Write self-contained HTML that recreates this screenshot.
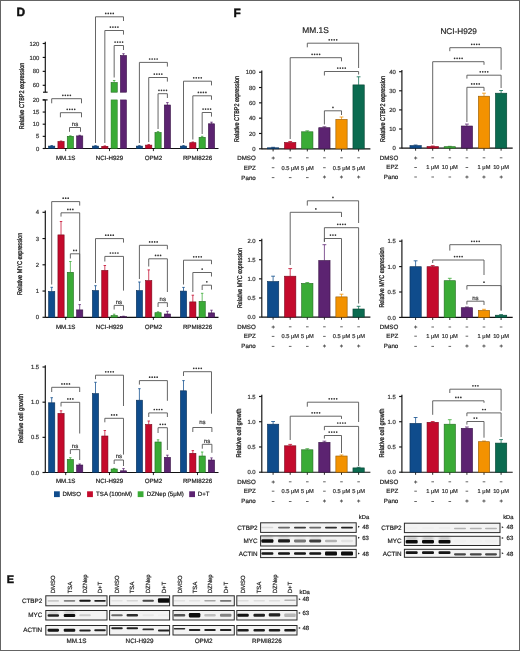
<!DOCTYPE html>
<html><head><meta charset="utf-8"><title>Figure</title>
<style>
html,body{margin:0;padding:0;background:#fff;}
body{width:520px;height:651px;overflow:hidden;font-family:"Liberation Sans", sans-serif;}
#fig{position:relative;width:520px;height:651px;}
#fig svg{position:absolute;left:0;top:0;display:block;will-change:transform;}
#frame{position:absolute;left:0;top:0;width:518px;height:649px;border:1px solid #646464;pointer-events:none;}
</style></head><body><div id="fig">
<svg width="520" height="651" viewBox="0 0 520 651" font-family='"Liberation Sans", sans-serif' text-rendering="geometricPrecision">
<defs><filter id="bl" x="-30%" y="-80%" width="160%" height="260%"><feGaussianBlur stdDeviation="0.7"/></filter><filter id="bl2" x="-30%" y="-80%" width="160%" height="260%"><feGaussianBlur stdDeviation="0.45"/></filter><filter id="bl3" x="-30%" y="-80%" width="160%" height="260%"><feGaussianBlur stdDeviation="1.1"/></filter></defs>
<rect x="0" y="0" width="520" height="651" fill="#fff"/>
<text x="16.5" y="16.3" font-size="11.9" text-anchor="start" fill="#111" font-weight="bold" stroke="#111" stroke-width="0.45" >D</text>
<text x="233.5" y="16.6" font-size="11.9" text-anchor="start" fill="#111" font-weight="bold" stroke="#111" stroke-width="0.45" >F</text>
<text x="6.7" y="583.2" font-size="10.9" text-anchor="start" fill="#111" font-weight="bold" stroke="#111" stroke-width="0.45" >E</text>
<line x1="45.3" y1="41.7" x2="45.3" y2="92.2" stroke="#111" stroke-width="1.15"/>
<line x1="43" y1="92.2" x2="47.6" y2="92.2" stroke="#111" stroke-width="1.15"/>
<line x1="42.7" y1="43.5" x2="45.3" y2="43.5" stroke="#111" stroke-width="1.15"/>
<text x="39.3" y="45.6" font-size="5.9" text-anchor="end" fill="#333" font-weight="normal" stroke="#333" stroke-width="0.2" >120</text>
<line x1="42.7" y1="57.43" x2="45.3" y2="57.43" stroke="#111" stroke-width="1.15"/>
<text x="39.3" y="59.53" font-size="5.9" text-anchor="end" fill="#333" font-weight="normal" stroke="#333" stroke-width="0.2" >100</text>
<line x1="42.7" y1="71.37" x2="45.3" y2="71.37" stroke="#111" stroke-width="1.15"/>
<text x="39.3" y="73.47" font-size="5.9" text-anchor="end" fill="#333" font-weight="normal" stroke="#333" stroke-width="0.2" >80</text>
<line x1="42.7" y1="85.3" x2="45.3" y2="85.3" stroke="#111" stroke-width="1.15"/>
<text x="39.3" y="87.4" font-size="5.9" text-anchor="end" fill="#333" font-weight="normal" stroke="#333" stroke-width="0.2" >60</text>
<line x1="45.3" y1="99.9" x2="45.3" y2="149" stroke="#111" stroke-width="1.15"/>
<line x1="42.7" y1="99.9" x2="47.6" y2="99.9" stroke="#111" stroke-width="1.15"/>
<line x1="42.7" y1="99.9" x2="45.3" y2="99.9" stroke="#111" stroke-width="1.15"/>
<text x="39.3" y="102" font-size="5.9" text-anchor="end" fill="#333" font-weight="normal" stroke="#333" stroke-width="0.2" >20</text>
<line x1="42.7" y1="112.05" x2="45.3" y2="112.05" stroke="#111" stroke-width="1.15"/>
<text x="39.3" y="114.15" font-size="5.9" text-anchor="end" fill="#333" font-weight="normal" stroke="#333" stroke-width="0.2" >15</text>
<line x1="42.7" y1="124.2" x2="45.3" y2="124.2" stroke="#111" stroke-width="1.15"/>
<text x="39.3" y="126.3" font-size="5.9" text-anchor="end" fill="#333" font-weight="normal" stroke="#333" stroke-width="0.2" >10</text>
<line x1="42.7" y1="136.35" x2="45.3" y2="136.35" stroke="#111" stroke-width="1.15"/>
<text x="39.3" y="138.45" font-size="5.9" text-anchor="end" fill="#333" font-weight="normal" stroke="#333" stroke-width="0.2" >5</text>
<line x1="42.7" y1="148.5" x2="45.3" y2="148.5" stroke="#111" stroke-width="1.15"/>
<text x="39.3" y="150.6" font-size="5.9" text-anchor="end" fill="#333" font-weight="normal" stroke="#333" stroke-width="0.2" >0</text>
<line x1="45.3" y1="148.5" x2="218.5" y2="148.5" stroke="#111" stroke-width="1.15"/>
<line x1="65.69" y1="148.5" x2="65.69" y2="151.1" stroke="#111" stroke-width="0.9"/>
<text x="65.69" y="159.6" font-size="6.2" text-anchor="middle" fill="#222" font-weight="normal" stroke="#222" stroke-width="0.2" >MM.1S</text>
<line x1="109.5" y1="148.5" x2="109.5" y2="151.1" stroke="#111" stroke-width="0.9"/>
<text x="109.5" y="159.6" font-size="6.2" text-anchor="middle" fill="#222" font-weight="normal" stroke="#222" stroke-width="0.2" >NCI-H929</text>
<line x1="153.4" y1="148.5" x2="153.4" y2="151.1" stroke="#111" stroke-width="0.9"/>
<text x="153.4" y="159.6" font-size="6.2" text-anchor="middle" fill="#222" font-weight="normal" stroke="#222" stroke-width="0.2" >OPM2</text>
<line x1="197.5" y1="148.5" x2="197.5" y2="151.1" stroke="#111" stroke-width="0.9"/>
<text x="197.5" y="159.6" font-size="6.2" text-anchor="middle" fill="#222" font-weight="normal" stroke="#222" stroke-width="0.2" >RPMI8226</text>
<text transform="translate(24 96) rotate(-90)" x="0" y="0" font-size="6.8" text-anchor="middle" fill="#222" stroke="#222" stroke-width="0.32" textLength="66.5" lengthAdjust="spacingAndGlyphs">Relative CTBP2 expression</text>
<line x1="51.7" y1="146.1" x2="51.7" y2="145.6" stroke="#0f4c8c" stroke-width="0.75"/>
<line x1="50.46" y1="145.6" x2="52.94" y2="145.6" stroke="#0f4c8c" stroke-width="0.8"/>
<rect x="48.6" y="146.1" width="6.2" height="2.4" fill="#0f4c8c" stroke="#092f56" stroke-width="0.6"/>
<line x1="61.03" y1="141.5" x2="61.03" y2="141" stroke="#c40a2c" stroke-width="0.75"/>
<line x1="59.79" y1="141" x2="62.27" y2="141" stroke="#c40a2c" stroke-width="0.8"/>
<rect x="57.93" y="141.5" width="6.2" height="7" fill="#c40a2c" stroke="#79061b" stroke-width="0.6"/>
<line x1="70.36" y1="136.3" x2="70.36" y2="135.8" stroke="#3aab36" stroke-width="0.75"/>
<line x1="69.12" y1="135.8" x2="71.6" y2="135.8" stroke="#3aab36" stroke-width="0.8"/>
<rect x="67.26" y="136.3" width="6.2" height="12.2" fill="#3aab36" stroke="#236a21" stroke-width="0.6"/>
<line x1="79.69" y1="135.9" x2="79.69" y2="135.3" stroke="#5c2371" stroke-width="0.75"/>
<line x1="78.45" y1="135.3" x2="80.93" y2="135.3" stroke="#5c2371" stroke-width="0.8"/>
<rect x="76.59" y="135.9" width="6.2" height="12.6" fill="#5c2371" stroke="#391546" stroke-width="0.6"/>
<line x1="95.5" y1="146.1" x2="95.5" y2="145.7" stroke="#0f4c8c" stroke-width="0.75"/>
<line x1="94.26" y1="145.7" x2="96.74" y2="145.7" stroke="#0f4c8c" stroke-width="0.8"/>
<rect x="92.4" y="146.1" width="6.2" height="2.4" fill="#0f4c8c" stroke="#092f56" stroke-width="0.6"/>
<line x1="104.83" y1="146.3" x2="104.83" y2="145.9" stroke="#c40a2c" stroke-width="0.75"/>
<line x1="103.59" y1="145.9" x2="106.07" y2="145.9" stroke="#c40a2c" stroke-width="0.8"/>
<rect x="101.73" y="146.3" width="6.2" height="2.2" fill="#c40a2c" stroke="#79061b" stroke-width="0.6"/>
<line x1="114.16" y1="82.51" x2="114.16" y2="80.49" stroke="#3aab36" stroke-width="0.75"/>
<line x1="112.92" y1="80.49" x2="115.4" y2="80.49" stroke="#3aab36" stroke-width="0.8"/>
<rect x="111.06" y="82.51" width="6.2" height="9.69" fill="#3aab36" stroke="#236a21" stroke-width="0.6"/>
<rect x="111.06" y="99.9" width="6.2" height="48.6" fill="#3aab36" stroke="#287725" stroke-width="0.5"/>
<line x1="123.49" y1="55.48" x2="123.49" y2="53.74" stroke="#5c2371" stroke-width="0.75"/>
<line x1="122.25" y1="53.74" x2="124.73" y2="53.74" stroke="#5c2371" stroke-width="0.8"/>
<rect x="120.39" y="55.48" width="6.2" height="36.72" fill="#5c2371" stroke="#391546" stroke-width="0.6"/>
<rect x="120.39" y="99.9" width="6.2" height="48.6" fill="#5c2371" stroke="#40184f" stroke-width="0.5"/>
<line x1="139.4" y1="146.1" x2="139.4" y2="145.7" stroke="#0f4c8c" stroke-width="0.75"/>
<line x1="138.16" y1="145.7" x2="140.64" y2="145.7" stroke="#0f4c8c" stroke-width="0.8"/>
<rect x="136.3" y="146.1" width="6.2" height="2.4" fill="#0f4c8c" stroke="#092f56" stroke-width="0.6"/>
<line x1="148.73" y1="145.1" x2="148.73" y2="144.6" stroke="#c40a2c" stroke-width="0.75"/>
<line x1="147.49" y1="144.6" x2="149.97" y2="144.6" stroke="#c40a2c" stroke-width="0.8"/>
<rect x="145.63" y="145.1" width="6.2" height="3.4" fill="#c40a2c" stroke="#79061b" stroke-width="0.6"/>
<line x1="158.06" y1="132.5" x2="158.06" y2="131.6" stroke="#3aab36" stroke-width="0.75"/>
<line x1="156.82" y1="131.6" x2="159.3" y2="131.6" stroke="#3aab36" stroke-width="0.8"/>
<rect x="154.96" y="132.5" width="6.2" height="16" fill="#3aab36" stroke="#236a21" stroke-width="0.6"/>
<line x1="167.39" y1="105" x2="167.39" y2="102.6" stroke="#5c2371" stroke-width="0.75"/>
<line x1="166.15" y1="102.6" x2="168.63" y2="102.6" stroke="#5c2371" stroke-width="0.8"/>
<rect x="164.29" y="105" width="6.2" height="43.5" fill="#5c2371" stroke="#391546" stroke-width="0.6"/>
<line x1="183.5" y1="146.1" x2="183.5" y2="145.6" stroke="#0f4c8c" stroke-width="0.75"/>
<line x1="182.26" y1="145.6" x2="184.74" y2="145.6" stroke="#0f4c8c" stroke-width="0.8"/>
<rect x="180.4" y="146.1" width="6.2" height="2.4" fill="#0f4c8c" stroke="#092f56" stroke-width="0.6"/>
<line x1="192.83" y1="142.7" x2="192.83" y2="142" stroke="#c40a2c" stroke-width="0.75"/>
<line x1="191.59" y1="142" x2="194.07" y2="142" stroke="#c40a2c" stroke-width="0.8"/>
<rect x="189.73" y="142.7" width="6.2" height="5.8" fill="#c40a2c" stroke="#79061b" stroke-width="0.6"/>
<line x1="202.16" y1="137.3" x2="202.16" y2="136.3" stroke="#3aab36" stroke-width="0.75"/>
<line x1="200.92" y1="136.3" x2="203.4" y2="136.3" stroke="#3aab36" stroke-width="0.8"/>
<rect x="199.06" y="137.3" width="6.2" height="11.2" fill="#3aab36" stroke="#236a21" stroke-width="0.6"/>
<line x1="211.49" y1="123.8" x2="211.49" y2="122.2" stroke="#5c2371" stroke-width="0.75"/>
<line x1="210.25" y1="122.2" x2="212.73" y2="122.2" stroke="#5c2371" stroke-width="0.8"/>
<rect x="208.39" y="123.8" width="6.2" height="24.7" fill="#5c2371" stroke="#391546" stroke-width="0.6"/>
<path d="M51.7 103.3 V98.7 H81.5 V103.3" fill="none" stroke="#555555" stroke-width="0.9"/>
<circle cx="62.85" cy="95.3" r="0.85" fill="#333"/>
<circle cx="65.35" cy="95.3" r="0.85" fill="#333"/>
<circle cx="67.85" cy="95.3" r="0.85" fill="#333"/>
<circle cx="70.35" cy="95.3" r="0.85" fill="#333"/>
<path d="M60.4 117.3 V112.7 H81.5 V117.3" fill="none" stroke="#555555" stroke-width="0.9"/>
<circle cx="67.2" cy="109.3" r="0.85" fill="#333"/>
<circle cx="69.7" cy="109.3" r="0.85" fill="#333"/>
<circle cx="72.2" cy="109.3" r="0.85" fill="#333"/>
<circle cx="74.7" cy="109.3" r="0.85" fill="#333"/>
<path d="M69.5 131.8 V127.5 H80.5 V131.8" fill="none" stroke="#555555" stroke-width="0.9"/>
<text x="75" y="126.1" font-size="6" text-anchor="middle" fill="#333" font-weight="normal" stroke="#333" stroke-width="0.2" >ns</text>
<path d="M95.5 143 V16.8 H123.49 V21" fill="none" stroke="#555555" stroke-width="0.9"/>
<circle cx="105.75" cy="13.4" r="0.85" fill="#333"/>
<circle cx="108.25" cy="13.4" r="0.85" fill="#333"/>
<circle cx="110.75" cy="13.4" r="0.85" fill="#333"/>
<circle cx="113.25" cy="13.4" r="0.85" fill="#333"/>
<path d="M104.83 143 V30.5 H123.49 V34.6" fill="none" stroke="#555555" stroke-width="0.9"/>
<circle cx="110.41" cy="27.1" r="0.85" fill="#333"/>
<circle cx="112.91" cy="27.1" r="0.85" fill="#333"/>
<circle cx="115.41" cy="27.1" r="0.85" fill="#333"/>
<circle cx="117.91" cy="27.1" r="0.85" fill="#333"/>
<path d="M114.16 77.5 V45.5 H123.49 V50" fill="none" stroke="#555555" stroke-width="0.9"/>
<circle cx="115.08" cy="42.1" r="0.85" fill="#333"/>
<circle cx="117.58" cy="42.1" r="0.85" fill="#333"/>
<circle cx="120.08" cy="42.1" r="0.85" fill="#333"/>
<circle cx="122.58" cy="42.1" r="0.85" fill="#333"/>
<path d="M139.4 143 V62.4 H167.39 V66.6" fill="none" stroke="#555555" stroke-width="0.9"/>
<circle cx="149.65" cy="59" r="0.85" fill="#333"/>
<circle cx="152.15" cy="59" r="0.85" fill="#333"/>
<circle cx="154.65" cy="59" r="0.85" fill="#333"/>
<circle cx="157.15" cy="59" r="0.85" fill="#333"/>
<path d="M148.73 142 V77.5 H167.39 V81.6" fill="none" stroke="#555555" stroke-width="0.9"/>
<circle cx="154.31" cy="74.1" r="0.85" fill="#333"/>
<circle cx="156.81" cy="74.1" r="0.85" fill="#333"/>
<circle cx="159.31" cy="74.1" r="0.85" fill="#333"/>
<circle cx="161.81" cy="74.1" r="0.85" fill="#333"/>
<path d="M158.06 129 V93.7 H167.39 V98" fill="none" stroke="#555555" stroke-width="0.9"/>
<circle cx="158.98" cy="90.3" r="0.85" fill="#333"/>
<circle cx="161.48" cy="90.3" r="0.85" fill="#333"/>
<circle cx="163.98" cy="90.3" r="0.85" fill="#333"/>
<circle cx="166.48" cy="90.3" r="0.85" fill="#333"/>
<path d="M183.5 143 V81.2 H211.49 V85.4" fill="none" stroke="#555555" stroke-width="0.9"/>
<circle cx="193.75" cy="77.8" r="0.85" fill="#333"/>
<circle cx="196.25" cy="77.8" r="0.85" fill="#333"/>
<circle cx="198.75" cy="77.8" r="0.85" fill="#333"/>
<circle cx="201.25" cy="77.8" r="0.85" fill="#333"/>
<path d="M192.83 139.5 V95.8 H211.49 V99.8" fill="none" stroke="#555555" stroke-width="0.9"/>
<circle cx="198.41" cy="92.4" r="0.85" fill="#333"/>
<circle cx="200.91" cy="92.4" r="0.85" fill="#333"/>
<circle cx="203.41" cy="92.4" r="0.85" fill="#333"/>
<circle cx="205.91" cy="92.4" r="0.85" fill="#333"/>
<path d="M202.16 134 V112.5 H211.49 V116.6" fill="none" stroke="#555555" stroke-width="0.9"/>
<circle cx="203.07" cy="109.1" r="0.85" fill="#333"/>
<circle cx="205.57" cy="109.1" r="0.85" fill="#333"/>
<circle cx="208.07" cy="109.1" r="0.85" fill="#333"/>
<circle cx="210.57" cy="109.1" r="0.85" fill="#333"/>
<line x1="45.3" y1="210.5" x2="45.3" y2="317.8" stroke="#111" stroke-width="1.15"/>
<line x1="42.5" y1="212.3" x2="45.3" y2="212.3" stroke="#111" stroke-width="1.15"/>
<text x="39.1" y="214.42" font-size="5.9" text-anchor="end" fill="#333" font-weight="normal" stroke="#333" stroke-width="0.2" >4</text>
<line x1="42.5" y1="238.55" x2="45.3" y2="238.55" stroke="#111" stroke-width="1.15"/>
<text x="39.1" y="240.67" font-size="5.9" text-anchor="end" fill="#333" font-weight="normal" stroke="#333" stroke-width="0.2" >3</text>
<line x1="42.5" y1="264.8" x2="45.3" y2="264.8" stroke="#111" stroke-width="1.15"/>
<text x="39.1" y="266.92" font-size="5.9" text-anchor="end" fill="#333" font-weight="normal" stroke="#333" stroke-width="0.2" >2</text>
<line x1="42.5" y1="291.05" x2="45.3" y2="291.05" stroke="#111" stroke-width="1.15"/>
<text x="39.1" y="293.17" font-size="5.9" text-anchor="end" fill="#333" font-weight="normal" stroke="#333" stroke-width="0.2" >1</text>
<line x1="42.5" y1="317.3" x2="45.3" y2="317.3" stroke="#111" stroke-width="1.15"/>
<text x="39.1" y="319.42" font-size="5.9" text-anchor="end" fill="#333" font-weight="normal" stroke="#333" stroke-width="0.2" >0</text>
<line x1="45.3" y1="317.3" x2="218.5" y2="317.3" stroke="#111" stroke-width="1.15"/>
<line x1="65.69" y1="317.3" x2="65.69" y2="319.9" stroke="#111" stroke-width="0.9"/>
<text x="65.69" y="328.6" font-size="6.2" text-anchor="middle" fill="#222" font-weight="normal" stroke="#222" stroke-width="0.2" >MM.1S</text>
<line x1="109.5" y1="317.3" x2="109.5" y2="319.9" stroke="#111" stroke-width="0.9"/>
<text x="109.5" y="328.6" font-size="6.2" text-anchor="middle" fill="#222" font-weight="normal" stroke="#222" stroke-width="0.2" >NCI-H929</text>
<line x1="153.4" y1="317.3" x2="153.4" y2="319.9" stroke="#111" stroke-width="0.9"/>
<text x="153.4" y="328.6" font-size="6.2" text-anchor="middle" fill="#222" font-weight="normal" stroke="#222" stroke-width="0.2" >OPM2</text>
<line x1="197.5" y1="317.3" x2="197.5" y2="319.9" stroke="#111" stroke-width="0.9"/>
<text x="197.5" y="328.6" font-size="6.2" text-anchor="middle" fill="#222" font-weight="normal" stroke="#222" stroke-width="0.2" >RPMI8226</text>
<text transform="translate(22.4 263.8) rotate(-90)" x="0" y="0" font-size="6.8" text-anchor="middle" fill="#222" stroke="#222" stroke-width="0.32" textLength="62.2" lengthAdjust="spacingAndGlyphs">Relative MYC expression</text>
<line x1="51.7" y1="291.5" x2="51.7" y2="287.3" stroke="#0f4c8c" stroke-width="0.75"/>
<line x1="50.46" y1="287.3" x2="52.94" y2="287.3" stroke="#0f4c8c" stroke-width="0.8"/>
<rect x="48.6" y="291.5" width="6.2" height="25.8" fill="#0f4c8c" stroke="#092f56" stroke-width="0.6"/>
<line x1="61.03" y1="234.9" x2="61.03" y2="221.5" stroke="#c40a2c" stroke-width="0.75"/>
<line x1="59.79" y1="221.5" x2="62.27" y2="221.5" stroke="#c40a2c" stroke-width="0.8"/>
<rect x="57.93" y="234.9" width="6.2" height="82.4" fill="#c40a2c" stroke="#79061b" stroke-width="0.6"/>
<line x1="70.36" y1="272.3" x2="70.36" y2="261.5" stroke="#3aab36" stroke-width="0.75"/>
<line x1="69.12" y1="261.5" x2="71.6" y2="261.5" stroke="#3aab36" stroke-width="0.8"/>
<rect x="67.26" y="272.3" width="6.2" height="45" fill="#3aab36" stroke="#236a21" stroke-width="0.6"/>
<line x1="79.69" y1="309.9" x2="79.69" y2="304.6" stroke="#5c2371" stroke-width="0.75"/>
<line x1="78.45" y1="304.6" x2="80.93" y2="304.6" stroke="#5c2371" stroke-width="0.8"/>
<rect x="76.59" y="309.9" width="6.2" height="7.4" fill="#5c2371" stroke="#391546" stroke-width="0.6"/>
<line x1="95.5" y1="290.6" x2="95.5" y2="285.7" stroke="#0f4c8c" stroke-width="0.75"/>
<line x1="94.26" y1="285.7" x2="96.74" y2="285.7" stroke="#0f4c8c" stroke-width="0.8"/>
<rect x="92.4" y="290.6" width="6.2" height="26.7" fill="#0f4c8c" stroke="#092f56" stroke-width="0.6"/>
<line x1="104.83" y1="270.4" x2="104.83" y2="265.5" stroke="#c40a2c" stroke-width="0.75"/>
<line x1="103.59" y1="265.5" x2="106.07" y2="265.5" stroke="#c40a2c" stroke-width="0.8"/>
<rect x="101.73" y="270.4" width="6.2" height="46.9" fill="#c40a2c" stroke="#79061b" stroke-width="0.6"/>
<line x1="114.16" y1="315.6" x2="114.16" y2="314.2" stroke="#3aab36" stroke-width="0.75"/>
<line x1="112.92" y1="314.2" x2="115.4" y2="314.2" stroke="#3aab36" stroke-width="0.8"/>
<rect x="111.06" y="315.6" width="6.2" height="1.7" fill="#3aab36" stroke="#236a21" stroke-width="0.6"/>
<line x1="123.49" y1="316.6" x2="123.49" y2="316.2" stroke="#5c2371" stroke-width="0.75"/>
<line x1="122.25" y1="316.2" x2="124.73" y2="316.2" stroke="#5c2371" stroke-width="0.8"/>
<rect x="120.39" y="316.6" width="6.2" height="0.7" fill="#5c2371" stroke="#391546" stroke-width="0.6"/>
<line x1="139.4" y1="290.6" x2="139.4" y2="282" stroke="#0f4c8c" stroke-width="0.75"/>
<line x1="138.16" y1="282" x2="140.64" y2="282" stroke="#0f4c8c" stroke-width="0.8"/>
<rect x="136.3" y="290.6" width="6.2" height="26.7" fill="#0f4c8c" stroke="#092f56" stroke-width="0.6"/>
<line x1="148.73" y1="280.6" x2="148.73" y2="269.9" stroke="#c40a2c" stroke-width="0.75"/>
<line x1="147.49" y1="269.9" x2="149.97" y2="269.9" stroke="#c40a2c" stroke-width="0.8"/>
<rect x="145.63" y="280.6" width="6.2" height="36.7" fill="#c40a2c" stroke="#79061b" stroke-width="0.6"/>
<line x1="158.06" y1="312.7" x2="158.06" y2="311.8" stroke="#3aab36" stroke-width="0.75"/>
<line x1="156.82" y1="311.8" x2="159.3" y2="311.8" stroke="#3aab36" stroke-width="0.8"/>
<rect x="154.96" y="312.7" width="6.2" height="4.6" fill="#3aab36" stroke="#236a21" stroke-width="0.6"/>
<line x1="167.39" y1="314" x2="167.39" y2="311.3" stroke="#5c2371" stroke-width="0.75"/>
<line x1="166.15" y1="311.3" x2="168.63" y2="311.3" stroke="#5c2371" stroke-width="0.8"/>
<rect x="164.29" y="314" width="6.2" height="3.3" fill="#5c2371" stroke="#391546" stroke-width="0.6"/>
<line x1="183.5" y1="291.1" x2="183.5" y2="287.4" stroke="#0f4c8c" stroke-width="0.75"/>
<line x1="182.26" y1="287.4" x2="184.74" y2="287.4" stroke="#0f4c8c" stroke-width="0.8"/>
<rect x="180.4" y="291.1" width="6.2" height="26.2" fill="#0f4c8c" stroke="#092f56" stroke-width="0.6"/>
<line x1="192.83" y1="301.9" x2="192.83" y2="295.2" stroke="#c40a2c" stroke-width="0.75"/>
<line x1="191.59" y1="295.2" x2="194.07" y2="295.2" stroke="#c40a2c" stroke-width="0.8"/>
<rect x="189.73" y="301.9" width="6.2" height="15.4" fill="#c40a2c" stroke="#79061b" stroke-width="0.6"/>
<line x1="202.16" y1="301.4" x2="202.16" y2="293.3" stroke="#3aab36" stroke-width="0.75"/>
<line x1="200.92" y1="293.3" x2="203.4" y2="293.3" stroke="#3aab36" stroke-width="0.8"/>
<rect x="199.06" y="301.4" width="6.2" height="15.9" fill="#3aab36" stroke="#236a21" stroke-width="0.6"/>
<line x1="211.49" y1="312.9" x2="211.49" y2="310.2" stroke="#5c2371" stroke-width="0.75"/>
<line x1="210.25" y1="310.2" x2="212.73" y2="310.2" stroke="#5c2371" stroke-width="0.8"/>
<rect x="208.39" y="312.9" width="6.2" height="4.4" fill="#5c2371" stroke="#391546" stroke-width="0.6"/>
<path d="M51.7 284.5 V201.6 H79.69 V205.6" fill="none" stroke="#555555" stroke-width="0.9"/>
<circle cx="63.19" cy="198.2" r="0.85" fill="#333"/>
<circle cx="65.69" cy="198.2" r="0.85" fill="#333"/>
<circle cx="68.19" cy="198.2" r="0.85" fill="#333"/>
<path d="M61.03 216.6 V212.8 H79.69 V301" fill="none" stroke="#555555" stroke-width="0.9"/>
<circle cx="67.86" cy="209.4" r="0.85" fill="#333"/>
<circle cx="70.36" cy="209.4" r="0.85" fill="#333"/>
<circle cx="72.86" cy="209.4" r="0.85" fill="#333"/>
<path d="M70.36 258.5 V253.8 H79.69 V301" fill="none" stroke="#555555" stroke-width="0.9"/>
<circle cx="73.78" cy="250.4" r="0.85" fill="#333"/>
<circle cx="76.28" cy="250.4" r="0.85" fill="#333"/>
<path d="M95.5 283 V238.6 H123.49 V242.6" fill="none" stroke="#555555" stroke-width="0.9"/>
<circle cx="105.75" cy="235.2" r="0.85" fill="#333"/>
<circle cx="108.25" cy="235.2" r="0.85" fill="#333"/>
<circle cx="110.75" cy="235.2" r="0.85" fill="#333"/>
<circle cx="113.25" cy="235.2" r="0.85" fill="#333"/>
<path d="M104.83 261.5 V256.4 H123.49 V290.6" fill="none" stroke="#555555" stroke-width="0.9"/>
<circle cx="110.41" cy="253" r="0.85" fill="#333"/>
<circle cx="112.91" cy="253" r="0.85" fill="#333"/>
<circle cx="115.41" cy="253" r="0.85" fill="#333"/>
<circle cx="117.91" cy="253" r="0.85" fill="#333"/>
<path d="M114.16 309.5 V305.4 H123.49 V310.5" fill="none" stroke="#555555" stroke-width="0.9"/>
<text x="118.83" y="304" font-size="6" text-anchor="middle" fill="#333" font-weight="normal" stroke="#333" stroke-width="0.2" >ns</text>
<path d="M139.4 279 V245.3 H167.39 V249.3" fill="none" stroke="#555555" stroke-width="0.9"/>
<circle cx="149.65" cy="241.9" r="0.85" fill="#333"/>
<circle cx="152.15" cy="241.9" r="0.85" fill="#333"/>
<circle cx="154.65" cy="241.9" r="0.85" fill="#333"/>
<circle cx="157.15" cy="241.9" r="0.85" fill="#333"/>
<path d="M148.73 266.5 V258.8 H167.39 V292" fill="none" stroke="#555555" stroke-width="0.9"/>
<circle cx="155.56" cy="255.4" r="0.85" fill="#333"/>
<circle cx="158.06" cy="255.4" r="0.85" fill="#333"/>
<circle cx="160.56" cy="255.4" r="0.85" fill="#333"/>
<path d="M158.06 307 V302.7 H167.39 V307" fill="none" stroke="#555555" stroke-width="0.9"/>
<text x="162.73" y="301.3" font-size="6" text-anchor="middle" fill="#333" font-weight="normal" stroke="#333" stroke-width="0.2" >ns</text>
<path d="M183.5 284.5 V260.2 H211.49 V264.2" fill="none" stroke="#555555" stroke-width="0.9"/>
<circle cx="193.75" cy="256.8" r="0.85" fill="#333"/>
<circle cx="196.25" cy="256.8" r="0.85" fill="#333"/>
<circle cx="198.75" cy="256.8" r="0.85" fill="#333"/>
<circle cx="201.25" cy="256.8" r="0.85" fill="#333"/>
<path d="M192.83 292 V272.5 H211.49 V276.5" fill="none" stroke="#555555" stroke-width="0.9"/>
<circle cx="202.16" cy="269.1" r="0.85" fill="#333"/>
<path d="M202.16 290 V285.2 H211.49 V289.5" fill="none" stroke="#555555" stroke-width="0.9"/>
<circle cx="206.82" cy="281.8" r="0.85" fill="#333"/>
<line x1="45.3" y1="365.2" x2="45.3" y2="473" stroke="#111" stroke-width="1.15"/>
<line x1="42.5" y1="367" x2="45.3" y2="367" stroke="#111" stroke-width="1.15"/>
<text x="39.1" y="369.12" font-size="5.9" text-anchor="end" fill="#333" font-weight="normal" stroke="#333" stroke-width="0.2" >1.5</text>
<line x1="42.5" y1="402.17" x2="45.3" y2="402.17" stroke="#111" stroke-width="1.15"/>
<text x="39.1" y="404.29" font-size="5.9" text-anchor="end" fill="#333" font-weight="normal" stroke="#333" stroke-width="0.2" >1.0</text>
<line x1="42.5" y1="437.33" x2="45.3" y2="437.33" stroke="#111" stroke-width="1.15"/>
<text x="39.1" y="439.46" font-size="5.9" text-anchor="end" fill="#333" font-weight="normal" stroke="#333" stroke-width="0.2" >0.5</text>
<line x1="42.5" y1="472.5" x2="45.3" y2="472.5" stroke="#111" stroke-width="1.15"/>
<text x="39.1" y="474.62" font-size="5.9" text-anchor="end" fill="#333" font-weight="normal" stroke="#333" stroke-width="0.2" >0.0</text>
<line x1="45.3" y1="472.5" x2="218.5" y2="472.5" stroke="#111" stroke-width="1.15"/>
<line x1="65.69" y1="472.5" x2="65.69" y2="475.1" stroke="#111" stroke-width="0.9"/>
<text x="65.69" y="483.4" font-size="6.2" text-anchor="middle" fill="#222" font-weight="normal" stroke="#222" stroke-width="0.2" >MM.1S</text>
<line x1="109.5" y1="472.5" x2="109.5" y2="475.1" stroke="#111" stroke-width="0.9"/>
<text x="109.5" y="483.4" font-size="6.2" text-anchor="middle" fill="#222" font-weight="normal" stroke="#222" stroke-width="0.2" >NCI-H929</text>
<line x1="153.4" y1="472.5" x2="153.4" y2="475.1" stroke="#111" stroke-width="0.9"/>
<text x="153.4" y="483.4" font-size="6.2" text-anchor="middle" fill="#222" font-weight="normal" stroke="#222" stroke-width="0.2" >OPM2</text>
<line x1="197.5" y1="472.5" x2="197.5" y2="475.1" stroke="#111" stroke-width="0.9"/>
<text x="197.5" y="483.4" font-size="6.2" text-anchor="middle" fill="#222" font-weight="normal" stroke="#222" stroke-width="0.2" >RPMI8226</text>
<text transform="translate(22.7 418.5) rotate(-90)" x="0" y="0" font-size="6.8" text-anchor="middle" fill="#222" stroke="#222" stroke-width="0.32" textLength="49.2" lengthAdjust="spacingAndGlyphs">Relative cell growth</text>
<line x1="51.7" y1="402.8" x2="51.7" y2="397.7" stroke="#0f4c8c" stroke-width="0.75"/>
<line x1="50.46" y1="397.7" x2="52.94" y2="397.7" stroke="#0f4c8c" stroke-width="0.8"/>
<rect x="48.6" y="402.8" width="6.2" height="69.7" fill="#0f4c8c" stroke="#092f56" stroke-width="0.6"/>
<line x1="61.03" y1="413.4" x2="61.03" y2="410.8" stroke="#c40a2c" stroke-width="0.75"/>
<line x1="59.79" y1="410.8" x2="62.27" y2="410.8" stroke="#c40a2c" stroke-width="0.8"/>
<rect x="57.93" y="413.4" width="6.2" height="59.1" fill="#c40a2c" stroke="#79061b" stroke-width="0.6"/>
<line x1="70.36" y1="459.5" x2="70.36" y2="457.7" stroke="#3aab36" stroke-width="0.75"/>
<line x1="69.12" y1="457.7" x2="71.6" y2="457.7" stroke="#3aab36" stroke-width="0.8"/>
<rect x="67.26" y="459.5" width="6.2" height="13" fill="#3aab36" stroke="#236a21" stroke-width="0.6"/>
<line x1="79.69" y1="465" x2="79.69" y2="464" stroke="#5c2371" stroke-width="0.75"/>
<line x1="78.45" y1="464" x2="80.93" y2="464" stroke="#5c2371" stroke-width="0.8"/>
<rect x="76.59" y="465" width="6.2" height="7.5" fill="#5c2371" stroke="#391546" stroke-width="0.6"/>
<line x1="95.5" y1="393.6" x2="95.5" y2="382.3" stroke="#0f4c8c" stroke-width="0.75"/>
<line x1="94.26" y1="382.3" x2="96.74" y2="382.3" stroke="#0f4c8c" stroke-width="0.8"/>
<rect x="92.4" y="393.6" width="6.2" height="78.9" fill="#0f4c8c" stroke="#092f56" stroke-width="0.6"/>
<line x1="104.83" y1="436" x2="104.83" y2="430.5" stroke="#c40a2c" stroke-width="0.75"/>
<line x1="103.59" y1="430.5" x2="106.07" y2="430.5" stroke="#c40a2c" stroke-width="0.8"/>
<rect x="101.73" y="436" width="6.2" height="36.5" fill="#c40a2c" stroke="#79061b" stroke-width="0.6"/>
<line x1="114.16" y1="469" x2="114.16" y2="468.4" stroke="#3aab36" stroke-width="0.75"/>
<line x1="112.92" y1="468.4" x2="115.4" y2="468.4" stroke="#3aab36" stroke-width="0.8"/>
<rect x="111.06" y="469" width="6.2" height="3.5" fill="#3aab36" stroke="#236a21" stroke-width="0.6"/>
<line x1="123.49" y1="470.8" x2="123.49" y2="468.6" stroke="#5c2371" stroke-width="0.75"/>
<line x1="122.25" y1="468.6" x2="124.73" y2="468.6" stroke="#5c2371" stroke-width="0.8"/>
<rect x="120.39" y="470.8" width="6.2" height="1.7" fill="#5c2371" stroke="#391546" stroke-width="0.6"/>
<line x1="139.4" y1="400.2" x2="139.4" y2="388.7" stroke="#0f4c8c" stroke-width="0.75"/>
<line x1="138.16" y1="388.7" x2="140.64" y2="388.7" stroke="#0f4c8c" stroke-width="0.8"/>
<rect x="136.3" y="400.2" width="6.2" height="72.3" fill="#0f4c8c" stroke="#092f56" stroke-width="0.6"/>
<line x1="148.73" y1="424.5" x2="148.73" y2="421" stroke="#c40a2c" stroke-width="0.75"/>
<line x1="147.49" y1="421" x2="149.97" y2="421" stroke="#c40a2c" stroke-width="0.8"/>
<rect x="145.63" y="424.5" width="6.2" height="48" fill="#c40a2c" stroke="#79061b" stroke-width="0.6"/>
<line x1="158.06" y1="442" x2="158.06" y2="439.8" stroke="#3aab36" stroke-width="0.75"/>
<line x1="156.82" y1="439.8" x2="159.3" y2="439.8" stroke="#3aab36" stroke-width="0.8"/>
<rect x="154.96" y="442" width="6.2" height="30.5" fill="#3aab36" stroke="#236a21" stroke-width="0.6"/>
<line x1="167.39" y1="457.3" x2="167.39" y2="455.2" stroke="#5c2371" stroke-width="0.75"/>
<line x1="166.15" y1="455.2" x2="168.63" y2="455.2" stroke="#5c2371" stroke-width="0.8"/>
<rect x="164.29" y="457.3" width="6.2" height="15.2" fill="#5c2371" stroke="#391546" stroke-width="0.6"/>
<line x1="183.5" y1="390.8" x2="183.5" y2="380.6" stroke="#0f4c8c" stroke-width="0.75"/>
<line x1="182.26" y1="380.6" x2="184.74" y2="380.6" stroke="#0f4c8c" stroke-width="0.8"/>
<rect x="180.4" y="390.8" width="6.2" height="81.7" fill="#0f4c8c" stroke="#092f56" stroke-width="0.6"/>
<line x1="192.83" y1="453.3" x2="192.83" y2="450.6" stroke="#c40a2c" stroke-width="0.75"/>
<line x1="191.59" y1="450.6" x2="194.07" y2="450.6" stroke="#c40a2c" stroke-width="0.8"/>
<rect x="189.73" y="453.3" width="6.2" height="19.2" fill="#c40a2c" stroke="#79061b" stroke-width="0.6"/>
<line x1="202.16" y1="456" x2="202.16" y2="452" stroke="#3aab36" stroke-width="0.75"/>
<line x1="200.92" y1="452" x2="203.4" y2="452" stroke="#3aab36" stroke-width="0.8"/>
<rect x="199.06" y="456" width="6.2" height="16.5" fill="#3aab36" stroke="#236a21" stroke-width="0.6"/>
<line x1="211.49" y1="460" x2="211.49" y2="457.9" stroke="#5c2371" stroke-width="0.75"/>
<line x1="210.25" y1="457.9" x2="212.73" y2="457.9" stroke="#5c2371" stroke-width="0.8"/>
<rect x="208.39" y="460" width="6.2" height="12.5" fill="#5c2371" stroke="#391546" stroke-width="0.6"/>
<path d="M51.7 392 V387.3 H79.69 V392" fill="none" stroke="#555555" stroke-width="0.9"/>
<circle cx="61.94" cy="383.9" r="0.85" fill="#333"/>
<circle cx="64.44" cy="383.9" r="0.85" fill="#333"/>
<circle cx="66.94" cy="383.9" r="0.85" fill="#333"/>
<circle cx="69.44" cy="383.9" r="0.85" fill="#333"/>
<path d="M61.03 406.5 V402.3 H79.69 V433.5" fill="none" stroke="#555555" stroke-width="0.9"/>
<circle cx="67.86" cy="398.9" r="0.85" fill="#333"/>
<circle cx="70.36" cy="398.9" r="0.85" fill="#333"/>
<circle cx="72.86" cy="398.9" r="0.85" fill="#333"/>
<path d="M70.36 454 V449.6 H79.69 V460" fill="none" stroke="#555555" stroke-width="0.9"/>
<text x="75.03" y="448.2" font-size="6" text-anchor="middle" fill="#333" font-weight="normal" stroke="#333" stroke-width="0.2" >ns</text>
<path d="M95.5 379.2 V375.2 H123.49 V406" fill="none" stroke="#555555" stroke-width="0.9"/>
<circle cx="105.75" cy="371.8" r="0.85" fill="#333"/>
<circle cx="108.25" cy="371.8" r="0.85" fill="#333"/>
<circle cx="110.75" cy="371.8" r="0.85" fill="#333"/>
<circle cx="113.25" cy="371.8" r="0.85" fill="#333"/>
<path d="M104.83 422.3 V418.3 H123.49 V454.6" fill="none" stroke="#555555" stroke-width="0.9"/>
<circle cx="111.66" cy="414.9" r="0.85" fill="#333"/>
<circle cx="114.16" cy="414.9" r="0.85" fill="#333"/>
<circle cx="116.66" cy="414.9" r="0.85" fill="#333"/>
<path d="M114.16 464 V460 H123.49 V466" fill="none" stroke="#555555" stroke-width="0.9"/>
<text x="118.83" y="457.8" font-size="6" text-anchor="middle" fill="#333" font-weight="normal" stroke="#333" stroke-width="0.2" >ns</text>
<path d="M139.4 384.6 V380.6 H167.39 V400.8" fill="none" stroke="#555555" stroke-width="0.9"/>
<circle cx="149.65" cy="377.2" r="0.85" fill="#333"/>
<circle cx="152.15" cy="377.2" r="0.85" fill="#333"/>
<circle cx="154.65" cy="377.2" r="0.85" fill="#333"/>
<circle cx="157.15" cy="377.2" r="0.85" fill="#333"/>
<path d="M148.73 417 V412.9 H167.39 V417" fill="none" stroke="#555555" stroke-width="0.9"/>
<circle cx="154.31" cy="409.5" r="0.85" fill="#333"/>
<circle cx="156.81" cy="409.5" r="0.85" fill="#333"/>
<circle cx="159.31" cy="409.5" r="0.85" fill="#333"/>
<circle cx="161.81" cy="409.5" r="0.85" fill="#333"/>
<path d="M158.06 433 V427.7 H167.39 V450" fill="none" stroke="#555555" stroke-width="0.9"/>
<circle cx="160.23" cy="424.3" r="0.85" fill="#333"/>
<circle cx="162.73" cy="424.3" r="0.85" fill="#333"/>
<circle cx="165.23" cy="424.3" r="0.85" fill="#333"/>
<path d="M183.5 376 V371.7 H211.49 V413.7" fill="none" stroke="#555555" stroke-width="0.9"/>
<circle cx="193.75" cy="368.3" r="0.85" fill="#333"/>
<circle cx="196.25" cy="368.3" r="0.85" fill="#333"/>
<circle cx="198.75" cy="368.3" r="0.85" fill="#333"/>
<circle cx="201.25" cy="368.3" r="0.85" fill="#333"/>
<path d="M192.8 432 V427.5 H211.9 V432" fill="none" stroke="#555555" stroke-width="0.9"/>
<text x="202.35" y="423.9" font-size="6" text-anchor="middle" fill="#333" font-weight="normal" stroke="#333" stroke-width="0.2" >ns</text>
<path d="M202.3 448.7 V444.3 H211.9 V452.8" fill="none" stroke="#555555" stroke-width="0.9"/>
<text x="207.1" y="442.9" font-size="6" text-anchor="middle" fill="#333" font-weight="normal" stroke="#333" stroke-width="0.2" >ns</text>
<rect x="54" y="491.3" width="5.8" height="5.8" fill="#0f4c8c"/>
<text x="62.6" y="496.3" font-size="6.1" text-anchor="start" fill="#222" font-weight="normal" stroke="#222" stroke-width="0.2" >DMSO</text>
<rect x="87.1" y="491.3" width="5.8" height="5.8" fill="#c40a2c"/>
<text x="96.1" y="496.3" font-size="6.1" text-anchor="start" fill="#222" font-weight="normal" stroke="#222" stroke-width="0.2" >TSA (100nM)</text>
<rect x="137.7" y="491.3" width="5.8" height="5.8" fill="#3aab36"/>
<text x="146.8" y="496.3" font-size="6.1" text-anchor="start" fill="#222" font-weight="normal" stroke="#222" stroke-width="0.2" >DZNep (5&#956;M)</text>
<rect x="189.2" y="491.3" width="5.8" height="5.8" fill="#5c2371"/>
<text x="197.8" y="496.3" font-size="6.1" text-anchor="start" fill="#222" font-weight="normal" stroke="#222" stroke-width="0.2" >D+T</text>
<text x="315.6" y="33" font-size="8.4" text-anchor="middle" fill="#222" font-weight="normal" stroke="#222" stroke-width="0.2" >MM.1S</text>
<text x="458.6" y="33.8" font-size="8.2" text-anchor="middle" fill="#222" font-weight="normal" stroke="#222" stroke-width="0.2" >NCI-H929</text>
<line x1="261.8" y1="70.4" x2="261.8" y2="149.3" stroke="#111" stroke-width="1.15"/>
<line x1="259" y1="72.2" x2="261.8" y2="72.2" stroke="#111" stroke-width="1.15"/>
<text x="255.6" y="74.32" font-size="5.9" text-anchor="end" fill="#333" font-weight="normal" stroke="#333" stroke-width="0.2" >100</text>
<line x1="259" y1="87.52" x2="261.8" y2="87.52" stroke="#111" stroke-width="1.15"/>
<text x="255.6" y="89.64" font-size="5.9" text-anchor="end" fill="#333" font-weight="normal" stroke="#333" stroke-width="0.2" >80</text>
<line x1="259" y1="102.84" x2="261.8" y2="102.84" stroke="#111" stroke-width="1.15"/>
<text x="255.6" y="104.96" font-size="5.9" text-anchor="end" fill="#333" font-weight="normal" stroke="#333" stroke-width="0.2" >60</text>
<line x1="259" y1="118.16" x2="261.8" y2="118.16" stroke="#111" stroke-width="1.15"/>
<text x="255.6" y="120.28" font-size="5.9" text-anchor="end" fill="#333" font-weight="normal" stroke="#333" stroke-width="0.2" >40</text>
<line x1="259" y1="133.48" x2="261.8" y2="133.48" stroke="#111" stroke-width="1.15"/>
<text x="255.6" y="135.6" font-size="5.9" text-anchor="end" fill="#333" font-weight="normal" stroke="#333" stroke-width="0.2" >20</text>
<line x1="259" y1="148.8" x2="261.8" y2="148.8" stroke="#111" stroke-width="1.15"/>
<text x="255.6" y="150.92" font-size="5.9" text-anchor="end" fill="#333" font-weight="normal" stroke="#333" stroke-width="0.2" >0</text>
<line x1="261.8" y1="148.8" x2="370.4" y2="148.8" stroke="#111" stroke-width="1.15"/>
<line x1="273.1" y1="148.8" x2="273.1" y2="151.4" stroke="#111" stroke-width="0.9"/>
<line x1="273.1" y1="147.8" x2="273.1" y2="147.3" stroke="#0f4c8c" stroke-width="0.75"/>
<line x1="271.2" y1="147.3" x2="275" y2="147.3" stroke="#0f4c8c" stroke-width="0.8"/>
<rect x="267.45" y="147.8" width="11.3" height="1" fill="#0f4c8c" stroke="#092f56" stroke-width="0.6"/>
<line x1="290.2" y1="148.8" x2="290.2" y2="151.4" stroke="#111" stroke-width="0.9"/>
<line x1="290.2" y1="142.5" x2="290.2" y2="141.5" stroke="#c40a2c" stroke-width="0.75"/>
<line x1="288.3" y1="141.5" x2="292.1" y2="141.5" stroke="#c40a2c" stroke-width="0.8"/>
<rect x="284.55" y="142.5" width="11.3" height="6.3" fill="#c40a2c" stroke="#79061b" stroke-width="0.6"/>
<line x1="307.3" y1="148.8" x2="307.3" y2="151.4" stroke="#111" stroke-width="0.9"/>
<line x1="307.3" y1="131.8" x2="307.3" y2="130.8" stroke="#3aab36" stroke-width="0.75"/>
<line x1="305.4" y1="130.8" x2="309.2" y2="130.8" stroke="#3aab36" stroke-width="0.8"/>
<rect x="301.65" y="131.8" width="11.3" height="17" fill="#3aab36" stroke="#236a21" stroke-width="0.6"/>
<line x1="324.4" y1="148.8" x2="324.4" y2="151.4" stroke="#111" stroke-width="0.9"/>
<line x1="324.4" y1="127.7" x2="324.4" y2="126.8" stroke="#5c2371" stroke-width="0.75"/>
<line x1="322.5" y1="126.8" x2="326.3" y2="126.8" stroke="#5c2371" stroke-width="0.8"/>
<rect x="318.75" y="127.7" width="11.3" height="21.1" fill="#5c2371" stroke="#391546" stroke-width="0.6"/>
<line x1="341.5" y1="148.8" x2="341.5" y2="151.4" stroke="#111" stroke-width="0.9"/>
<line x1="341.5" y1="119.4" x2="341.5" y2="117" stroke="#f39200" stroke-width="0.75"/>
<line x1="339.6" y1="117" x2="343.4" y2="117" stroke="#f39200" stroke-width="0.8"/>
<rect x="335.85" y="119.4" width="11.3" height="29.4" fill="#f39200" stroke="#965a00" stroke-width="0.6"/>
<line x1="358.6" y1="148.8" x2="358.6" y2="151.4" stroke="#111" stroke-width="0.9"/>
<line x1="358.6" y1="84.9" x2="358.6" y2="76.8" stroke="#0b6b50" stroke-width="0.75"/>
<line x1="356.7" y1="76.8" x2="360.5" y2="76.8" stroke="#0b6b50" stroke-width="0.8"/>
<rect x="352.95" y="84.9" width="11.3" height="63.9" fill="#0b6b50" stroke="#064231" stroke-width="0.6"/>
<path d="M307.3 47.3 V43.2 H358.6 V68" fill="none" stroke="#555555" stroke-width="0.9"/>
<circle cx="329.2" cy="39.8" r="0.85" fill="#333"/>
<circle cx="331.7" cy="39.8" r="0.85" fill="#333"/>
<circle cx="334.2" cy="39.8" r="0.85" fill="#333"/>
<circle cx="336.7" cy="39.8" r="0.85" fill="#333"/>
<path d="M290.2 139 V57.7 H341.5 V61.3" fill="none" stroke="#555555" stroke-width="0.9"/>
<circle cx="312.1" cy="54.3" r="0.85" fill="#333"/>
<circle cx="314.6" cy="54.3" r="0.85" fill="#333"/>
<circle cx="317.1" cy="54.3" r="0.85" fill="#333"/>
<circle cx="319.6" cy="54.3" r="0.85" fill="#333"/>
<path d="M324.4 75.5 V71.5 H358.6 V74.5" fill="none" stroke="#555555" stroke-width="0.9"/>
<circle cx="337.75" cy="68.1" r="0.85" fill="#333"/>
<circle cx="340.25" cy="68.1" r="0.85" fill="#333"/>
<circle cx="342.75" cy="68.1" r="0.85" fill="#333"/>
<circle cx="345.25" cy="68.1" r="0.85" fill="#333"/>
<path d="M324.4 124.5 V110.8 H341.5 V115" fill="none" stroke="#555555" stroke-width="0.9"/>
<circle cx="332.95" cy="107.4" r="0.85" fill="#333"/>
<text transform="translate(239.1 109) rotate(-90)" x="0" y="0" font-size="6.8" text-anchor="middle" fill="#222" stroke="#222" stroke-width="0.32" textLength="65.8" lengthAdjust="spacingAndGlyphs">Relative CTBP2 expression</text>
<line x1="401.9" y1="69.9" x2="401.9" y2="148.6" stroke="#111" stroke-width="1.15"/>
<line x1="399.1" y1="71.7" x2="401.9" y2="71.7" stroke="#111" stroke-width="1.15"/>
<text x="395.7" y="73.82" font-size="5.9" text-anchor="end" fill="#333" font-weight="normal" stroke="#333" stroke-width="0.2" >40</text>
<line x1="399.1" y1="90.8" x2="401.9" y2="90.8" stroke="#111" stroke-width="1.15"/>
<text x="395.7" y="92.92" font-size="5.9" text-anchor="end" fill="#333" font-weight="normal" stroke="#333" stroke-width="0.2" >30</text>
<line x1="399.1" y1="109.9" x2="401.9" y2="109.9" stroke="#111" stroke-width="1.15"/>
<text x="395.7" y="112.02" font-size="5.9" text-anchor="end" fill="#333" font-weight="normal" stroke="#333" stroke-width="0.2" >20</text>
<line x1="399.1" y1="129" x2="401.9" y2="129" stroke="#111" stroke-width="1.15"/>
<text x="395.7" y="131.12" font-size="5.9" text-anchor="end" fill="#333" font-weight="normal" stroke="#333" stroke-width="0.2" >10</text>
<line x1="399.1" y1="148.1" x2="401.9" y2="148.1" stroke="#111" stroke-width="1.15"/>
<text x="395.7" y="150.22" font-size="5.9" text-anchor="end" fill="#333" font-weight="normal" stroke="#333" stroke-width="0.2" >0</text>
<line x1="401.9" y1="148.1" x2="512.7" y2="148.1" stroke="#111" stroke-width="1.15"/>
<line x1="415.6" y1="148.1" x2="415.6" y2="150.7" stroke="#111" stroke-width="0.9"/>
<line x1="415.6" y1="145.6" x2="415.6" y2="145" stroke="#0f4c8c" stroke-width="0.75"/>
<line x1="413.7" y1="145" x2="417.5" y2="145" stroke="#0f4c8c" stroke-width="0.8"/>
<rect x="409.95" y="145.6" width="11.3" height="2.5" fill="#0f4c8c" stroke="#092f56" stroke-width="0.6"/>
<line x1="432.7" y1="148.1" x2="432.7" y2="150.7" stroke="#111" stroke-width="0.9"/>
<line x1="432.7" y1="146.5" x2="432.7" y2="146" stroke="#c40a2c" stroke-width="0.75"/>
<line x1="430.8" y1="146" x2="434.6" y2="146" stroke="#c40a2c" stroke-width="0.8"/>
<rect x="427.05" y="146.5" width="11.3" height="1.6" fill="#c40a2c" stroke="#79061b" stroke-width="0.6"/>
<line x1="449.8" y1="148.1" x2="449.8" y2="150.7" stroke="#111" stroke-width="0.9"/>
<line x1="449.8" y1="146.7" x2="449.8" y2="146.3" stroke="#3aab36" stroke-width="0.75"/>
<line x1="447.9" y1="146.3" x2="451.7" y2="146.3" stroke="#3aab36" stroke-width="0.8"/>
<rect x="444.15" y="146.7" width="11.3" height="1.4" fill="#3aab36" stroke="#236a21" stroke-width="0.6"/>
<line x1="466.9" y1="148.1" x2="466.9" y2="150.7" stroke="#111" stroke-width="0.9"/>
<line x1="466.9" y1="126" x2="466.9" y2="124.1" stroke="#5c2371" stroke-width="0.75"/>
<line x1="465" y1="124.1" x2="468.8" y2="124.1" stroke="#5c2371" stroke-width="0.8"/>
<rect x="461.25" y="126" width="11.3" height="22.1" fill="#5c2371" stroke="#391546" stroke-width="0.6"/>
<line x1="484" y1="148.1" x2="484" y2="150.7" stroke="#111" stroke-width="0.9"/>
<line x1="484" y1="96.2" x2="484" y2="93.2" stroke="#f39200" stroke-width="0.75"/>
<line x1="482.1" y1="93.2" x2="485.9" y2="93.2" stroke="#f39200" stroke-width="0.8"/>
<rect x="478.35" y="96.2" width="11.3" height="51.9" fill="#f39200" stroke="#965a00" stroke-width="0.6"/>
<line x1="501.1" y1="148.1" x2="501.1" y2="150.7" stroke="#111" stroke-width="0.9"/>
<line x1="501.1" y1="93.2" x2="501.1" y2="90.5" stroke="#0b6b50" stroke-width="0.75"/>
<line x1="499.2" y1="90.5" x2="503" y2="90.5" stroke="#0b6b50" stroke-width="0.8"/>
<rect x="495.45" y="93.2" width="11.3" height="54.9" fill="#0b6b50" stroke="#064231" stroke-width="0.6"/>
<path d="M449.8 51.2 V47.7 H501.1 V69.8" fill="none" stroke="#555555" stroke-width="0.9"/>
<circle cx="471.7" cy="44.3" r="0.85" fill="#333"/>
<circle cx="474.2" cy="44.3" r="0.85" fill="#333"/>
<circle cx="476.7" cy="44.3" r="0.85" fill="#333"/>
<circle cx="479.2" cy="44.3" r="0.85" fill="#333"/>
<path d="M432.7 144 V61.7 H484 V64.8" fill="none" stroke="#555555" stroke-width="0.9"/>
<circle cx="454.6" cy="58.3" r="0.85" fill="#333"/>
<circle cx="457.1" cy="58.3" r="0.85" fill="#333"/>
<circle cx="459.6" cy="58.3" r="0.85" fill="#333"/>
<circle cx="462.1" cy="58.3" r="0.85" fill="#333"/>
<path d="M466.9 78.6 V75.2 H501.1 V88" fill="none" stroke="#555555" stroke-width="0.9"/>
<circle cx="480.25" cy="71.8" r="0.85" fill="#333"/>
<circle cx="482.75" cy="71.8" r="0.85" fill="#333"/>
<circle cx="485.25" cy="71.8" r="0.85" fill="#333"/>
<circle cx="487.75" cy="71.8" r="0.85" fill="#333"/>
<path d="M466.9 122 V87.3 H484 V91" fill="none" stroke="#555555" stroke-width="0.9"/>
<circle cx="471.7" cy="83.9" r="0.85" fill="#333"/>
<circle cx="474.2" cy="83.9" r="0.85" fill="#333"/>
<circle cx="476.7" cy="83.9" r="0.85" fill="#333"/>
<circle cx="479.2" cy="83.9" r="0.85" fill="#333"/>
<text transform="translate(385 109) rotate(-90)" x="0" y="0" font-size="6.8" text-anchor="middle" fill="#222" stroke="#222" stroke-width="0.32" textLength="65.8" lengthAdjust="spacingAndGlyphs">Relative CTBP2 expression</text>
<text x="255.8" y="159.7" font-size="6.2" text-anchor="end" fill="#222" font-weight="normal" stroke="#222" stroke-width="0.2" >DMSO</text>
<text x="255.8" y="169.6" font-size="6.2" text-anchor="end" fill="#222" font-weight="normal" stroke="#222" stroke-width="0.2" >EPZ</text>
<text x="255.8" y="179.5" font-size="6.2" text-anchor="end" fill="#222" font-weight="normal" stroke="#222" stroke-width="0.2" >Pano</text>
<text x="273.1" y="159.6" font-size="5.8" text-anchor="middle" fill="#333" font-weight="normal" stroke="#333" stroke-width="0.2" >+</text>
<line x1="288.9" y1="157.8" x2="291.5" y2="157.8" stroke="#555" stroke-width="0.9"/>
<line x1="306" y1="157.8" x2="308.6" y2="157.8" stroke="#555" stroke-width="0.9"/>
<line x1="323.1" y1="157.8" x2="325.7" y2="157.8" stroke="#555" stroke-width="0.9"/>
<line x1="340.2" y1="157.8" x2="342.8" y2="157.8" stroke="#555" stroke-width="0.9"/>
<line x1="357.3" y1="157.8" x2="359.9" y2="157.8" stroke="#555" stroke-width="0.9"/>
<line x1="271.8" y1="167.7" x2="274.4" y2="167.7" stroke="#555" stroke-width="0.9"/>
<text x="290.2" y="169.5" font-size="5.7" text-anchor="middle" fill="#333" font-weight="normal" stroke="#333" stroke-width="0.2" >0.5 &#956;M</text>
<text x="307.3" y="169.5" font-size="5.7" text-anchor="middle" fill="#333" font-weight="normal" stroke="#333" stroke-width="0.2" >5 &#956;M</text>
<line x1="323.1" y1="167.7" x2="325.7" y2="167.7" stroke="#555" stroke-width="0.9"/>
<text x="341.5" y="169.5" font-size="5.7" text-anchor="middle" fill="#333" font-weight="normal" stroke="#333" stroke-width="0.2" >0.5 &#956;M</text>
<text x="358.6" y="169.5" font-size="5.7" text-anchor="middle" fill="#333" font-weight="normal" stroke="#333" stroke-width="0.2" >5 &#956;M</text>
<line x1="271.8" y1="177.6" x2="274.4" y2="177.6" stroke="#555" stroke-width="0.9"/>
<line x1="288.9" y1="177.6" x2="291.5" y2="177.6" stroke="#555" stroke-width="0.9"/>
<line x1="306" y1="177.6" x2="308.6" y2="177.6" stroke="#555" stroke-width="0.9"/>
<text x="324.4" y="179.4" font-size="5.8" text-anchor="middle" fill="#333" font-weight="normal" stroke="#333" stroke-width="0.2" >+</text>
<text x="341.5" y="179.4" font-size="5.8" text-anchor="middle" fill="#333" font-weight="normal" stroke="#333" stroke-width="0.2" >+</text>
<text x="358.6" y="179.4" font-size="5.8" text-anchor="middle" fill="#333" font-weight="normal" stroke="#333" stroke-width="0.2" >+</text>
<text x="398.3" y="159.7" font-size="6.2" text-anchor="end" fill="#222" font-weight="normal" stroke="#222" stroke-width="0.2" >DMSO</text>
<text x="398.3" y="169.4" font-size="6.2" text-anchor="end" fill="#222" font-weight="normal" stroke="#222" stroke-width="0.2" >EPZ</text>
<text x="398.3" y="178.9" font-size="6.2" text-anchor="end" fill="#222" font-weight="normal" stroke="#222" stroke-width="0.2" >Pano</text>
<text x="415.6" y="159.6" font-size="5.8" text-anchor="middle" fill="#333" font-weight="normal" stroke="#333" stroke-width="0.2" >+</text>
<line x1="431.4" y1="157.8" x2="434" y2="157.8" stroke="#555" stroke-width="0.9"/>
<line x1="448.5" y1="157.8" x2="451.1" y2="157.8" stroke="#555" stroke-width="0.9"/>
<line x1="465.6" y1="157.8" x2="468.2" y2="157.8" stroke="#555" stroke-width="0.9"/>
<line x1="482.7" y1="157.8" x2="485.3" y2="157.8" stroke="#555" stroke-width="0.9"/>
<line x1="499.8" y1="157.8" x2="502.4" y2="157.8" stroke="#555" stroke-width="0.9"/>
<line x1="414.3" y1="167.5" x2="416.9" y2="167.5" stroke="#555" stroke-width="0.9"/>
<text x="432.7" y="169.3" font-size="5.7" text-anchor="middle" fill="#333" font-weight="normal" stroke="#333" stroke-width="0.2" >1 &#956;M</text>
<text x="449.8" y="169.3" font-size="5.7" text-anchor="middle" fill="#333" font-weight="normal" stroke="#333" stroke-width="0.2" >10 &#956;M</text>
<line x1="465.6" y1="167.5" x2="468.2" y2="167.5" stroke="#555" stroke-width="0.9"/>
<text x="484" y="169.3" font-size="5.7" text-anchor="middle" fill="#333" font-weight="normal" stroke="#333" stroke-width="0.2" >1 &#956;M</text>
<text x="501.1" y="169.3" font-size="5.7" text-anchor="middle" fill="#333" font-weight="normal" stroke="#333" stroke-width="0.2" >10 &#956;M</text>
<line x1="414.3" y1="177" x2="416.9" y2="177" stroke="#555" stroke-width="0.9"/>
<line x1="431.4" y1="177" x2="434" y2="177" stroke="#555" stroke-width="0.9"/>
<line x1="448.5" y1="177" x2="451.1" y2="177" stroke="#555" stroke-width="0.9"/>
<text x="466.9" y="178.8" font-size="5.8" text-anchor="middle" fill="#333" font-weight="normal" stroke="#333" stroke-width="0.2" >+</text>
<text x="484" y="178.8" font-size="5.8" text-anchor="middle" fill="#333" font-weight="normal" stroke="#333" stroke-width="0.2" >+</text>
<text x="501.1" y="178.8" font-size="5.8" text-anchor="middle" fill="#333" font-weight="normal" stroke="#333" stroke-width="0.2" >+</text>
<line x1="261.8" y1="238.8" x2="261.8" y2="317.6" stroke="#111" stroke-width="1.15"/>
<line x1="259" y1="240.6" x2="261.8" y2="240.6" stroke="#111" stroke-width="1.15"/>
<text x="255.6" y="242.72" font-size="5.9" text-anchor="end" fill="#333" font-weight="normal" stroke="#333" stroke-width="0.2" >2.0</text>
<line x1="259" y1="259.73" x2="261.8" y2="259.73" stroke="#111" stroke-width="1.15"/>
<text x="255.6" y="261.85" font-size="5.9" text-anchor="end" fill="#333" font-weight="normal" stroke="#333" stroke-width="0.2" >1.5</text>
<line x1="259" y1="278.85" x2="261.8" y2="278.85" stroke="#111" stroke-width="1.15"/>
<text x="255.6" y="280.97" font-size="5.9" text-anchor="end" fill="#333" font-weight="normal" stroke="#333" stroke-width="0.2" >1.0</text>
<line x1="259" y1="297.98" x2="261.8" y2="297.98" stroke="#111" stroke-width="1.15"/>
<text x="255.6" y="300.1" font-size="5.9" text-anchor="end" fill="#333" font-weight="normal" stroke="#333" stroke-width="0.2" >0.5</text>
<line x1="259" y1="317.1" x2="261.8" y2="317.1" stroke="#111" stroke-width="1.15"/>
<text x="255.6" y="319.22" font-size="5.9" text-anchor="end" fill="#333" font-weight="normal" stroke="#333" stroke-width="0.2" >0.0</text>
<line x1="261.8" y1="317.1" x2="370.4" y2="317.1" stroke="#111" stroke-width="1.15"/>
<line x1="273.1" y1="317.1" x2="273.1" y2="319.7" stroke="#111" stroke-width="0.9"/>
<line x1="273.1" y1="281.5" x2="273.1" y2="276.2" stroke="#0f4c8c" stroke-width="0.75"/>
<line x1="271.2" y1="276.2" x2="275" y2="276.2" stroke="#0f4c8c" stroke-width="0.8"/>
<rect x="267.45" y="281.5" width="11.3" height="35.6" fill="#0f4c8c" stroke="#092f56" stroke-width="0.6"/>
<line x1="290.2" y1="317.1" x2="290.2" y2="319.7" stroke="#111" stroke-width="0.9"/>
<line x1="290.2" y1="276.2" x2="290.2" y2="268.6" stroke="#c40a2c" stroke-width="0.75"/>
<line x1="288.3" y1="268.6" x2="292.1" y2="268.6" stroke="#c40a2c" stroke-width="0.8"/>
<rect x="284.55" y="276.2" width="11.3" height="40.9" fill="#c40a2c" stroke="#79061b" stroke-width="0.6"/>
<line x1="307.3" y1="317.1" x2="307.3" y2="319.7" stroke="#111" stroke-width="0.9"/>
<line x1="307.3" y1="283.4" x2="307.3" y2="282.5" stroke="#3aab36" stroke-width="0.75"/>
<line x1="305.4" y1="282.5" x2="309.2" y2="282.5" stroke="#3aab36" stroke-width="0.8"/>
<rect x="301.65" y="283.4" width="11.3" height="33.7" fill="#3aab36" stroke="#236a21" stroke-width="0.6"/>
<line x1="324.4" y1="317.1" x2="324.4" y2="319.7" stroke="#111" stroke-width="0.9"/>
<line x1="324.4" y1="260.5" x2="324.4" y2="244.7" stroke="#5c2371" stroke-width="0.75"/>
<line x1="322.5" y1="244.7" x2="326.3" y2="244.7" stroke="#5c2371" stroke-width="0.8"/>
<rect x="318.75" y="260.5" width="11.3" height="56.6" fill="#5c2371" stroke="#391546" stroke-width="0.6"/>
<line x1="341.5" y1="317.1" x2="341.5" y2="319.7" stroke="#111" stroke-width="0.9"/>
<line x1="341.5" y1="296.9" x2="341.5" y2="294.2" stroke="#f39200" stroke-width="0.75"/>
<line x1="339.6" y1="294.2" x2="343.4" y2="294.2" stroke="#f39200" stroke-width="0.8"/>
<rect x="335.85" y="296.9" width="11.3" height="20.2" fill="#f39200" stroke="#965a00" stroke-width="0.6"/>
<line x1="358.6" y1="317.1" x2="358.6" y2="319.7" stroke="#111" stroke-width="0.9"/>
<line x1="358.6" y1="309" x2="358.6" y2="306.3" stroke="#0b6b50" stroke-width="0.75"/>
<line x1="356.7" y1="306.3" x2="360.5" y2="306.3" stroke="#0b6b50" stroke-width="0.8"/>
<rect x="352.95" y="309" width="11.3" height="8.1" fill="#0b6b50" stroke="#064231" stroke-width="0.6"/>
<path d="M307.3 205.6 V200.8 H358.6 V223" fill="none" stroke="#555555" stroke-width="0.9"/>
<circle cx="332.95" cy="197.4" r="0.85" fill="#333"/>
<path d="M290.2 265 V212.3 H341.5 V217" fill="none" stroke="#555555" stroke-width="0.9"/>
<circle cx="315.85" cy="208.9" r="0.85" fill="#333"/>
<path d="M324.4 241.5 V227.7 H358.6 V303.5" fill="none" stroke="#555555" stroke-width="0.9"/>
<circle cx="337.75" cy="224.3" r="0.85" fill="#333"/>
<circle cx="340.25" cy="224.3" r="0.85" fill="#333"/>
<circle cx="342.75" cy="224.3" r="0.85" fill="#333"/>
<circle cx="345.25" cy="224.3" r="0.85" fill="#333"/>
<path d="M324.4 242 V238.5 H341.5 V291" fill="none" stroke="#555555" stroke-width="0.9"/>
<circle cx="330.45" cy="235.1" r="0.85" fill="#333"/>
<circle cx="332.95" cy="235.1" r="0.85" fill="#333"/>
<circle cx="335.45" cy="235.1" r="0.85" fill="#333"/>
<text transform="translate(241.6 278) rotate(-90)" x="0" y="0" font-size="6.8" text-anchor="middle" fill="#222" stroke="#222" stroke-width="0.32" textLength="60" lengthAdjust="spacingAndGlyphs">Relative MYC expression</text>
<line x1="401.9" y1="239.4" x2="401.9" y2="317.9" stroke="#111" stroke-width="1.15"/>
<line x1="399.1" y1="241.2" x2="401.9" y2="241.2" stroke="#111" stroke-width="1.15"/>
<text x="395.7" y="243.32" font-size="5.9" text-anchor="end" fill="#333" font-weight="normal" stroke="#333" stroke-width="0.2" >1.5</text>
<line x1="399.1" y1="266.6" x2="401.9" y2="266.6" stroke="#111" stroke-width="1.15"/>
<text x="395.7" y="268.72" font-size="5.9" text-anchor="end" fill="#333" font-weight="normal" stroke="#333" stroke-width="0.2" >1.0</text>
<line x1="399.1" y1="292" x2="401.9" y2="292" stroke="#111" stroke-width="1.15"/>
<text x="395.7" y="294.12" font-size="5.9" text-anchor="end" fill="#333" font-weight="normal" stroke="#333" stroke-width="0.2" >0.5</text>
<line x1="399.1" y1="317.4" x2="401.9" y2="317.4" stroke="#111" stroke-width="1.15"/>
<text x="395.7" y="319.52" font-size="5.9" text-anchor="end" fill="#333" font-weight="normal" stroke="#333" stroke-width="0.2" >0.0</text>
<line x1="401.9" y1="317.4" x2="512.7" y2="317.4" stroke="#111" stroke-width="1.15"/>
<line x1="415.6" y1="317.4" x2="415.6" y2="320" stroke="#111" stroke-width="0.9"/>
<line x1="415.6" y1="266.7" x2="415.6" y2="260.8" stroke="#0f4c8c" stroke-width="0.75"/>
<line x1="413.7" y1="260.8" x2="417.5" y2="260.8" stroke="#0f4c8c" stroke-width="0.8"/>
<rect x="409.95" y="266.7" width="11.3" height="50.7" fill="#0f4c8c" stroke="#092f56" stroke-width="0.6"/>
<line x1="432.7" y1="317.4" x2="432.7" y2="320" stroke="#111" stroke-width="0.9"/>
<line x1="432.7" y1="266.7" x2="432.7" y2="265.5" stroke="#c40a2c" stroke-width="0.75"/>
<line x1="430.8" y1="265.5" x2="434.6" y2="265.5" stroke="#c40a2c" stroke-width="0.8"/>
<rect x="427.05" y="266.7" width="11.3" height="50.7" fill="#c40a2c" stroke="#79061b" stroke-width="0.6"/>
<line x1="449.8" y1="317.4" x2="449.8" y2="320" stroke="#111" stroke-width="0.9"/>
<line x1="449.8" y1="280.7" x2="449.8" y2="278.3" stroke="#3aab36" stroke-width="0.75"/>
<line x1="447.9" y1="278.3" x2="451.7" y2="278.3" stroke="#3aab36" stroke-width="0.8"/>
<rect x="444.15" y="280.7" width="11.3" height="36.7" fill="#3aab36" stroke="#236a21" stroke-width="0.6"/>
<line x1="466.9" y1="317.4" x2="466.9" y2="320" stroke="#111" stroke-width="0.9"/>
<line x1="466.9" y1="307.7" x2="466.9" y2="307" stroke="#5c2371" stroke-width="0.75"/>
<line x1="465" y1="307" x2="468.8" y2="307" stroke="#5c2371" stroke-width="0.8"/>
<rect x="461.25" y="307.7" width="11.3" height="9.7" fill="#5c2371" stroke="#391546" stroke-width="0.6"/>
<line x1="484" y1="317.4" x2="484" y2="320" stroke="#111" stroke-width="0.9"/>
<line x1="484" y1="310.4" x2="484" y2="309.3" stroke="#f39200" stroke-width="0.75"/>
<line x1="482.1" y1="309.3" x2="485.9" y2="309.3" stroke="#f39200" stroke-width="0.8"/>
<rect x="478.35" y="310.4" width="11.3" height="7" fill="#f39200" stroke="#965a00" stroke-width="0.6"/>
<line x1="501.1" y1="317.4" x2="501.1" y2="320" stroke="#111" stroke-width="0.9"/>
<line x1="501.1" y1="315.2" x2="501.1" y2="314.6" stroke="#0b6b50" stroke-width="0.75"/>
<line x1="499.2" y1="314.6" x2="503" y2="314.6" stroke="#0b6b50" stroke-width="0.8"/>
<rect x="495.45" y="315.2" width="11.3" height="2.2" fill="#0b6b50" stroke="#064231" stroke-width="0.6"/>
<path d="M449.8 250.6 V244.7 H501.1 V310" fill="none" stroke="#555555" stroke-width="0.9"/>
<circle cx="471.7" cy="241.3" r="0.85" fill="#333"/>
<circle cx="474.2" cy="241.3" r="0.85" fill="#333"/>
<circle cx="476.7" cy="241.3" r="0.85" fill="#333"/>
<circle cx="479.2" cy="241.3" r="0.85" fill="#333"/>
<path d="M432.7 263 V260 H484 V275" fill="none" stroke="#555555" stroke-width="0.9"/>
<circle cx="454.6" cy="256.6" r="0.85" fill="#333"/>
<circle cx="457.1" cy="256.6" r="0.85" fill="#333"/>
<circle cx="459.6" cy="256.6" r="0.85" fill="#333"/>
<circle cx="462.1" cy="256.6" r="0.85" fill="#333"/>
<path d="M466.9 289.6 V285.6 H501.1 V311" fill="none" stroke="#555555" stroke-width="0.9"/>
<circle cx="484" cy="282.2" r="0.85" fill="#333"/>
<path d="M466.9 304.5 V301.2 H484 V305" fill="none" stroke="#555555" stroke-width="0.9"/>
<text x="475.45" y="299.8" font-size="6" text-anchor="middle" fill="#333" font-weight="normal" stroke="#333" stroke-width="0.2" >ns</text>
<text transform="translate(384.3 277.5) rotate(-90)" x="0" y="0" font-size="6.8" text-anchor="middle" fill="#222" stroke="#222" stroke-width="0.32" textLength="60" lengthAdjust="spacingAndGlyphs">Relative MYC expression</text>
<text x="255.8" y="328.7" font-size="6.2" text-anchor="end" fill="#222" font-weight="normal" stroke="#222" stroke-width="0.2" >DMSO</text>
<text x="255.8" y="338.3" font-size="6.2" text-anchor="end" fill="#222" font-weight="normal" stroke="#222" stroke-width="0.2" >EPZ</text>
<text x="255.8" y="348.3" font-size="6.2" text-anchor="end" fill="#222" font-weight="normal" stroke="#222" stroke-width="0.2" >Pano</text>
<text x="273.1" y="328.6" font-size="5.8" text-anchor="middle" fill="#333" font-weight="normal" stroke="#333" stroke-width="0.2" >+</text>
<line x1="288.9" y1="326.8" x2="291.5" y2="326.8" stroke="#555" stroke-width="0.9"/>
<line x1="306" y1="326.8" x2="308.6" y2="326.8" stroke="#555" stroke-width="0.9"/>
<line x1="323.1" y1="326.8" x2="325.7" y2="326.8" stroke="#555" stroke-width="0.9"/>
<line x1="340.2" y1="326.8" x2="342.8" y2="326.8" stroke="#555" stroke-width="0.9"/>
<line x1="357.3" y1="326.8" x2="359.9" y2="326.8" stroke="#555" stroke-width="0.9"/>
<line x1="271.8" y1="336.4" x2="274.4" y2="336.4" stroke="#555" stroke-width="0.9"/>
<text x="290.2" y="338.2" font-size="5.7" text-anchor="middle" fill="#333" font-weight="normal" stroke="#333" stroke-width="0.2" >0.5 &#956;M</text>
<text x="307.3" y="338.2" font-size="5.7" text-anchor="middle" fill="#333" font-weight="normal" stroke="#333" stroke-width="0.2" >5 &#956;M</text>
<line x1="323.1" y1="336.4" x2="325.7" y2="336.4" stroke="#555" stroke-width="0.9"/>
<text x="341.5" y="338.2" font-size="5.7" text-anchor="middle" fill="#333" font-weight="normal" stroke="#333" stroke-width="0.2" >0.5 &#956;M</text>
<text x="358.6" y="338.2" font-size="5.7" text-anchor="middle" fill="#333" font-weight="normal" stroke="#333" stroke-width="0.2" >5 &#956;M</text>
<line x1="271.8" y1="346.4" x2="274.4" y2="346.4" stroke="#555" stroke-width="0.9"/>
<line x1="288.9" y1="346.4" x2="291.5" y2="346.4" stroke="#555" stroke-width="0.9"/>
<line x1="306" y1="346.4" x2="308.6" y2="346.4" stroke="#555" stroke-width="0.9"/>
<text x="324.4" y="348.2" font-size="5.8" text-anchor="middle" fill="#333" font-weight="normal" stroke="#333" stroke-width="0.2" >+</text>
<text x="341.5" y="348.2" font-size="5.8" text-anchor="middle" fill="#333" font-weight="normal" stroke="#333" stroke-width="0.2" >+</text>
<text x="358.6" y="348.2" font-size="5.8" text-anchor="middle" fill="#333" font-weight="normal" stroke="#333" stroke-width="0.2" >+</text>
<text x="398.3" y="328.9" font-size="6.2" text-anchor="end" fill="#222" font-weight="normal" stroke="#222" stroke-width="0.2" >DMSO</text>
<text x="398.3" y="338.1" font-size="6.2" text-anchor="end" fill="#222" font-weight="normal" stroke="#222" stroke-width="0.2" >EPZ</text>
<text x="398.3" y="348.3" font-size="6.2" text-anchor="end" fill="#222" font-weight="normal" stroke="#222" stroke-width="0.2" >Pano</text>
<text x="415.6" y="328.8" font-size="5.8" text-anchor="middle" fill="#333" font-weight="normal" stroke="#333" stroke-width="0.2" >+</text>
<line x1="431.4" y1="327" x2="434" y2="327" stroke="#555" stroke-width="0.9"/>
<line x1="448.5" y1="327" x2="451.1" y2="327" stroke="#555" stroke-width="0.9"/>
<line x1="465.6" y1="327" x2="468.2" y2="327" stroke="#555" stroke-width="0.9"/>
<line x1="482.7" y1="327" x2="485.3" y2="327" stroke="#555" stroke-width="0.9"/>
<line x1="499.8" y1="327" x2="502.4" y2="327" stroke="#555" stroke-width="0.9"/>
<line x1="414.3" y1="336.2" x2="416.9" y2="336.2" stroke="#555" stroke-width="0.9"/>
<text x="432.7" y="338" font-size="5.7" text-anchor="middle" fill="#333" font-weight="normal" stroke="#333" stroke-width="0.2" >1 &#956;M</text>
<text x="449.8" y="338" font-size="5.7" text-anchor="middle" fill="#333" font-weight="normal" stroke="#333" stroke-width="0.2" >10 &#956;M</text>
<line x1="465.6" y1="336.2" x2="468.2" y2="336.2" stroke="#555" stroke-width="0.9"/>
<text x="484" y="338" font-size="5.7" text-anchor="middle" fill="#333" font-weight="normal" stroke="#333" stroke-width="0.2" >1 &#956;M</text>
<text x="501.1" y="338" font-size="5.7" text-anchor="middle" fill="#333" font-weight="normal" stroke="#333" stroke-width="0.2" >10 &#956;M</text>
<line x1="414.3" y1="346.4" x2="416.9" y2="346.4" stroke="#555" stroke-width="0.9"/>
<line x1="431.4" y1="346.4" x2="434" y2="346.4" stroke="#555" stroke-width="0.9"/>
<line x1="448.5" y1="346.4" x2="451.1" y2="346.4" stroke="#555" stroke-width="0.9"/>
<text x="466.9" y="348.2" font-size="5.8" text-anchor="middle" fill="#333" font-weight="normal" stroke="#333" stroke-width="0.2" >+</text>
<text x="484" y="348.2" font-size="5.8" text-anchor="middle" fill="#333" font-weight="normal" stroke="#333" stroke-width="0.2" >+</text>
<text x="501.1" y="348.2" font-size="5.8" text-anchor="middle" fill="#333" font-weight="normal" stroke="#333" stroke-width="0.2" >+</text>
<line x1="261.8" y1="394.7" x2="261.8" y2="472.7" stroke="#111" stroke-width="1.15"/>
<line x1="259" y1="396.5" x2="261.8" y2="396.5" stroke="#111" stroke-width="1.15"/>
<text x="255.6" y="398.62" font-size="5.9" text-anchor="end" fill="#333" font-weight="normal" stroke="#333" stroke-width="0.2" >1.5</text>
<line x1="259" y1="421.73" x2="261.8" y2="421.73" stroke="#111" stroke-width="1.15"/>
<text x="255.6" y="423.86" font-size="5.9" text-anchor="end" fill="#333" font-weight="normal" stroke="#333" stroke-width="0.2" >1.0</text>
<line x1="259" y1="446.97" x2="261.8" y2="446.97" stroke="#111" stroke-width="1.15"/>
<text x="255.6" y="449.09" font-size="5.9" text-anchor="end" fill="#333" font-weight="normal" stroke="#333" stroke-width="0.2" >0.5</text>
<line x1="259" y1="472.2" x2="261.8" y2="472.2" stroke="#111" stroke-width="1.15"/>
<text x="255.6" y="474.32" font-size="5.9" text-anchor="end" fill="#333" font-weight="normal" stroke="#333" stroke-width="0.2" >0.0</text>
<line x1="261.8" y1="472.2" x2="370.4" y2="472.2" stroke="#111" stroke-width="1.15"/>
<line x1="273.1" y1="472.2" x2="273.1" y2="474.8" stroke="#111" stroke-width="0.9"/>
<line x1="273.1" y1="424.2" x2="273.1" y2="421.5" stroke="#0f4c8c" stroke-width="0.75"/>
<line x1="271.2" y1="421.5" x2="275" y2="421.5" stroke="#0f4c8c" stroke-width="0.8"/>
<rect x="267.45" y="424.2" width="11.3" height="48" fill="#0f4c8c" stroke="#092f56" stroke-width="0.6"/>
<line x1="290.2" y1="472.2" x2="290.2" y2="474.8" stroke="#111" stroke-width="0.9"/>
<line x1="290.2" y1="445.8" x2="290.2" y2="444.4" stroke="#c40a2c" stroke-width="0.75"/>
<line x1="288.3" y1="444.4" x2="292.1" y2="444.4" stroke="#c40a2c" stroke-width="0.8"/>
<rect x="284.55" y="445.8" width="11.3" height="26.4" fill="#c40a2c" stroke="#79061b" stroke-width="0.6"/>
<line x1="307.3" y1="472.2" x2="307.3" y2="474.8" stroke="#111" stroke-width="0.9"/>
<line x1="307.3" y1="449.8" x2="307.3" y2="448.7" stroke="#3aab36" stroke-width="0.75"/>
<line x1="305.4" y1="448.7" x2="309.2" y2="448.7" stroke="#3aab36" stroke-width="0.8"/>
<rect x="301.65" y="449.8" width="11.3" height="22.4" fill="#3aab36" stroke="#236a21" stroke-width="0.6"/>
<line x1="324.4" y1="472.2" x2="324.4" y2="474.8" stroke="#111" stroke-width="0.9"/>
<line x1="324.4" y1="442.3" x2="324.4" y2="441.2" stroke="#5c2371" stroke-width="0.75"/>
<line x1="322.5" y1="441.2" x2="326.3" y2="441.2" stroke="#5c2371" stroke-width="0.8"/>
<rect x="318.75" y="442.3" width="11.3" height="29.9" fill="#5c2371" stroke="#391546" stroke-width="0.6"/>
<line x1="341.5" y1="472.2" x2="341.5" y2="474.8" stroke="#111" stroke-width="0.9"/>
<line x1="341.5" y1="456" x2="341.5" y2="455" stroke="#f39200" stroke-width="0.75"/>
<line x1="339.6" y1="455" x2="343.4" y2="455" stroke="#f39200" stroke-width="0.8"/>
<rect x="335.85" y="456" width="11.3" height="16.2" fill="#f39200" stroke="#965a00" stroke-width="0.6"/>
<line x1="358.6" y1="472.2" x2="358.6" y2="474.8" stroke="#111" stroke-width="0.9"/>
<line x1="358.6" y1="467.9" x2="358.6" y2="467.3" stroke="#0b6b50" stroke-width="0.75"/>
<line x1="356.7" y1="467.3" x2="360.5" y2="467.3" stroke="#0b6b50" stroke-width="0.8"/>
<rect x="352.95" y="467.9" width="11.3" height="4.3" fill="#0b6b50" stroke="#064231" stroke-width="0.6"/>
<path d="M307.3 406.7 V402.2 H358.6 V422" fill="none" stroke="#555555" stroke-width="0.9"/>
<circle cx="329.2" cy="398.8" r="0.85" fill="#333"/>
<circle cx="331.7" cy="398.8" r="0.85" fill="#333"/>
<circle cx="334.2" cy="398.8" r="0.85" fill="#333"/>
<circle cx="336.7" cy="398.8" r="0.85" fill="#333"/>
<path d="M290.2 440 V416.2 H341.5 V418.9" fill="none" stroke="#555555" stroke-width="0.9"/>
<circle cx="312.1" cy="412.8" r="0.85" fill="#333"/>
<circle cx="314.6" cy="412.8" r="0.85" fill="#333"/>
<circle cx="317.1" cy="412.8" r="0.85" fill="#333"/>
<circle cx="319.6" cy="412.8" r="0.85" fill="#333"/>
<path d="M324.4 430.2 V426.4 H358.6 V466" fill="none" stroke="#555555" stroke-width="0.9"/>
<circle cx="337.75" cy="423" r="0.85" fill="#333"/>
<circle cx="340.25" cy="423" r="0.85" fill="#333"/>
<circle cx="342.75" cy="423" r="0.85" fill="#333"/>
<circle cx="345.25" cy="423" r="0.85" fill="#333"/>
<path d="M324.4 438.6 V435.5 H341.5 V453" fill="none" stroke="#555555" stroke-width="0.9"/>
<circle cx="329.2" cy="432.1" r="0.85" fill="#333"/>
<circle cx="331.7" cy="432.1" r="0.85" fill="#333"/>
<circle cx="334.2" cy="432.1" r="0.85" fill="#333"/>
<circle cx="336.7" cy="432.1" r="0.85" fill="#333"/>
<text transform="translate(241 433) rotate(-90)" x="0" y="0" font-size="6.8" text-anchor="middle" fill="#222" stroke="#222" stroke-width="0.32" textLength="49" lengthAdjust="spacingAndGlyphs">Relative cell growth</text>
<line x1="401.9" y1="394.7" x2="401.9" y2="472.7" stroke="#111" stroke-width="1.15"/>
<line x1="399.1" y1="396.5" x2="401.9" y2="396.5" stroke="#111" stroke-width="1.15"/>
<text x="395.7" y="398.62" font-size="5.9" text-anchor="end" fill="#333" font-weight="normal" stroke="#333" stroke-width="0.2" >1.5</text>
<line x1="399.1" y1="421.73" x2="401.9" y2="421.73" stroke="#111" stroke-width="1.15"/>
<text x="395.7" y="423.86" font-size="5.9" text-anchor="end" fill="#333" font-weight="normal" stroke="#333" stroke-width="0.2" >1.0</text>
<line x1="399.1" y1="446.97" x2="401.9" y2="446.97" stroke="#111" stroke-width="1.15"/>
<text x="395.7" y="449.09" font-size="5.9" text-anchor="end" fill="#333" font-weight="normal" stroke="#333" stroke-width="0.2" >0.5</text>
<line x1="399.1" y1="472.2" x2="401.9" y2="472.2" stroke="#111" stroke-width="1.15"/>
<text x="395.7" y="474.32" font-size="5.9" text-anchor="end" fill="#333" font-weight="normal" stroke="#333" stroke-width="0.2" >0.0</text>
<line x1="401.9" y1="472.2" x2="512.7" y2="472.2" stroke="#111" stroke-width="1.15"/>
<line x1="415.6" y1="472.2" x2="415.6" y2="474.8" stroke="#111" stroke-width="0.9"/>
<line x1="415.6" y1="423.4" x2="415.6" y2="417.5" stroke="#0f4c8c" stroke-width="0.75"/>
<line x1="413.7" y1="417.5" x2="417.5" y2="417.5" stroke="#0f4c8c" stroke-width="0.8"/>
<rect x="409.95" y="423.4" width="11.3" height="48.8" fill="#0f4c8c" stroke="#092f56" stroke-width="0.6"/>
<line x1="432.7" y1="472.2" x2="432.7" y2="474.8" stroke="#111" stroke-width="0.9"/>
<line x1="432.7" y1="422.3" x2="432.7" y2="421.5" stroke="#c40a2c" stroke-width="0.75"/>
<line x1="430.8" y1="421.5" x2="434.6" y2="421.5" stroke="#c40a2c" stroke-width="0.8"/>
<rect x="427.05" y="422.3" width="11.3" height="49.9" fill="#c40a2c" stroke="#79061b" stroke-width="0.6"/>
<line x1="449.8" y1="472.2" x2="449.8" y2="474.8" stroke="#111" stroke-width="0.9"/>
<line x1="449.8" y1="424.2" x2="449.8" y2="419.7" stroke="#3aab36" stroke-width="0.75"/>
<line x1="447.9" y1="419.7" x2="451.7" y2="419.7" stroke="#3aab36" stroke-width="0.8"/>
<rect x="444.15" y="424.2" width="11.3" height="48" fill="#3aab36" stroke="#236a21" stroke-width="0.6"/>
<line x1="466.9" y1="472.2" x2="466.9" y2="474.8" stroke="#111" stroke-width="0.9"/>
<line x1="466.9" y1="428.3" x2="466.9" y2="427" stroke="#5c2371" stroke-width="0.75"/>
<line x1="465" y1="427" x2="468.8" y2="427" stroke="#5c2371" stroke-width="0.8"/>
<rect x="461.25" y="428.3" width="11.3" height="43.9" fill="#5c2371" stroke="#391546" stroke-width="0.6"/>
<line x1="484" y1="472.2" x2="484" y2="474.8" stroke="#111" stroke-width="0.9"/>
<line x1="484" y1="441.7" x2="484" y2="441" stroke="#f39200" stroke-width="0.75"/>
<line x1="482.1" y1="441" x2="485.9" y2="441" stroke="#f39200" stroke-width="0.8"/>
<rect x="478.35" y="441.7" width="11.3" height="30.5" fill="#f39200" stroke="#965a00" stroke-width="0.6"/>
<line x1="501.1" y1="472.2" x2="501.1" y2="474.8" stroke="#111" stroke-width="0.9"/>
<line x1="501.1" y1="443.1" x2="501.1" y2="439.6" stroke="#0b6b50" stroke-width="0.75"/>
<line x1="499.2" y1="439.6" x2="503" y2="439.6" stroke="#0b6b50" stroke-width="0.8"/>
<rect x="495.45" y="443.1" width="11.3" height="29.1" fill="#0b6b50" stroke="#064231" stroke-width="0.6"/>
<path d="M449.8 393 V389.2 H501.1 V410.8" fill="none" stroke="#555555" stroke-width="0.9"/>
<circle cx="472.95" cy="385.8" r="0.85" fill="#333"/>
<circle cx="475.45" cy="385.8" r="0.85" fill="#333"/>
<circle cx="477.95" cy="385.8" r="0.85" fill="#333"/>
<path d="M432.7 414.8 V400.8 H484 V402.8" fill="none" stroke="#555555" stroke-width="0.9"/>
<circle cx="455.85" cy="397.4" r="0.85" fill="#333"/>
<circle cx="458.35" cy="397.4" r="0.85" fill="#333"/>
<circle cx="460.85" cy="397.4" r="0.85" fill="#333"/>
<path d="M466.9 416.2 V412.9 H501.1 V437" fill="none" stroke="#555555" stroke-width="0.9"/>
<circle cx="482.75" cy="409.5" r="0.85" fill="#333"/>
<circle cx="485.25" cy="409.5" r="0.85" fill="#333"/>
<path d="M466.9 424.6 V421.5 H484 V437.7" fill="none" stroke="#555555" stroke-width="0.9"/>
<circle cx="474.2" cy="418.1" r="0.85" fill="#333"/>
<circle cx="476.7" cy="418.1" r="0.85" fill="#333"/>
<text transform="translate(384.4 433) rotate(-90)" x="0" y="0" font-size="6.8" text-anchor="middle" fill="#222" stroke="#222" stroke-width="0.32" textLength="49" lengthAdjust="spacingAndGlyphs">Relative cell growth</text>
<text x="255.8" y="483.7" font-size="6.2" text-anchor="end" fill="#222" font-weight="normal" stroke="#222" stroke-width="0.2" >DMSO</text>
<text x="255.8" y="493.1" font-size="6.2" text-anchor="end" fill="#222" font-weight="normal" stroke="#222" stroke-width="0.2" >EPZ</text>
<text x="255.8" y="503.4" font-size="6.2" text-anchor="end" fill="#222" font-weight="normal" stroke="#222" stroke-width="0.2" >Pano</text>
<text x="273.1" y="483.6" font-size="5.8" text-anchor="middle" fill="#333" font-weight="normal" stroke="#333" stroke-width="0.2" >+</text>
<line x1="288.9" y1="481.8" x2="291.5" y2="481.8" stroke="#555" stroke-width="0.9"/>
<line x1="306" y1="481.8" x2="308.6" y2="481.8" stroke="#555" stroke-width="0.9"/>
<line x1="323.1" y1="481.8" x2="325.7" y2="481.8" stroke="#555" stroke-width="0.9"/>
<line x1="340.2" y1="481.8" x2="342.8" y2="481.8" stroke="#555" stroke-width="0.9"/>
<line x1="357.3" y1="481.8" x2="359.9" y2="481.8" stroke="#555" stroke-width="0.9"/>
<line x1="271.8" y1="491.2" x2="274.4" y2="491.2" stroke="#555" stroke-width="0.9"/>
<text x="290.2" y="493" font-size="5.7" text-anchor="middle" fill="#333" font-weight="normal" stroke="#333" stroke-width="0.2" >0.5 &#956;M</text>
<text x="307.3" y="493" font-size="5.7" text-anchor="middle" fill="#333" font-weight="normal" stroke="#333" stroke-width="0.2" >5 &#956;M</text>
<line x1="323.1" y1="491.2" x2="325.7" y2="491.2" stroke="#555" stroke-width="0.9"/>
<text x="341.5" y="493" font-size="5.7" text-anchor="middle" fill="#333" font-weight="normal" stroke="#333" stroke-width="0.2" >0.5 &#956;M</text>
<text x="358.6" y="493" font-size="5.7" text-anchor="middle" fill="#333" font-weight="normal" stroke="#333" stroke-width="0.2" >5 &#956;M</text>
<line x1="271.8" y1="501.5" x2="274.4" y2="501.5" stroke="#555" stroke-width="0.9"/>
<line x1="288.9" y1="501.5" x2="291.5" y2="501.5" stroke="#555" stroke-width="0.9"/>
<line x1="306" y1="501.5" x2="308.6" y2="501.5" stroke="#555" stroke-width="0.9"/>
<text x="324.4" y="503.3" font-size="5.8" text-anchor="middle" fill="#333" font-weight="normal" stroke="#333" stroke-width="0.2" >+</text>
<text x="341.5" y="503.3" font-size="5.8" text-anchor="middle" fill="#333" font-weight="normal" stroke="#333" stroke-width="0.2" >+</text>
<text x="358.6" y="503.3" font-size="5.8" text-anchor="middle" fill="#333" font-weight="normal" stroke="#333" stroke-width="0.2" >+</text>
<text x="398.3" y="483.7" font-size="6.2" text-anchor="end" fill="#222" font-weight="normal" stroke="#222" stroke-width="0.2" >DMSO</text>
<text x="398.3" y="493.1" font-size="6.2" text-anchor="end" fill="#222" font-weight="normal" stroke="#222" stroke-width="0.2" >EPZ</text>
<text x="398.3" y="503.4" font-size="6.2" text-anchor="end" fill="#222" font-weight="normal" stroke="#222" stroke-width="0.2" >Pano</text>
<text x="415.6" y="483.6" font-size="5.8" text-anchor="middle" fill="#333" font-weight="normal" stroke="#333" stroke-width="0.2" >+</text>
<line x1="431.4" y1="481.8" x2="434" y2="481.8" stroke="#555" stroke-width="0.9"/>
<line x1="448.5" y1="481.8" x2="451.1" y2="481.8" stroke="#555" stroke-width="0.9"/>
<line x1="465.6" y1="481.8" x2="468.2" y2="481.8" stroke="#555" stroke-width="0.9"/>
<line x1="482.7" y1="481.8" x2="485.3" y2="481.8" stroke="#555" stroke-width="0.9"/>
<line x1="499.8" y1="481.8" x2="502.4" y2="481.8" stroke="#555" stroke-width="0.9"/>
<line x1="414.3" y1="491.2" x2="416.9" y2="491.2" stroke="#555" stroke-width="0.9"/>
<text x="432.7" y="493" font-size="5.7" text-anchor="middle" fill="#333" font-weight="normal" stroke="#333" stroke-width="0.2" >1 &#956;M</text>
<text x="449.8" y="493" font-size="5.7" text-anchor="middle" fill="#333" font-weight="normal" stroke="#333" stroke-width="0.2" >10 &#956;M</text>
<line x1="465.6" y1="491.2" x2="468.2" y2="491.2" stroke="#555" stroke-width="0.9"/>
<text x="484" y="493" font-size="5.7" text-anchor="middle" fill="#333" font-weight="normal" stroke="#333" stroke-width="0.2" >1 &#956;M</text>
<text x="501.1" y="493" font-size="5.7" text-anchor="middle" fill="#333" font-weight="normal" stroke="#333" stroke-width="0.2" >10 &#956;M</text>
<line x1="414.3" y1="501.5" x2="416.9" y2="501.5" stroke="#555" stroke-width="0.9"/>
<line x1="431.4" y1="501.5" x2="434" y2="501.5" stroke="#555" stroke-width="0.9"/>
<line x1="448.5" y1="501.5" x2="451.1" y2="501.5" stroke="#555" stroke-width="0.9"/>
<text x="466.9" y="503.3" font-size="5.8" text-anchor="middle" fill="#333" font-weight="normal" stroke="#333" stroke-width="0.2" >+</text>
<text x="484" y="503.3" font-size="5.8" text-anchor="middle" fill="#333" font-weight="normal" stroke="#333" stroke-width="0.2" >+</text>
<text x="501.1" y="503.3" font-size="5.8" text-anchor="middle" fill="#333" font-weight="normal" stroke="#333" stroke-width="0.2" >+</text>
<rect x="260.6" y="522.8" width="95.6" height="9.6" fill="#f3f3f3"/>
<rect x="261.4" y="526.85" width="12" height="1.5" rx="0.75" fill="rgb(214,214,214)" filter="url(#bl2)"/>
<rect x="278" y="526.8" width="12" height="1.6" rx="0.8" fill="rgb(106,106,106)" filter="url(#bl2)"/>
<rect x="294" y="526.7" width="12" height="1.8" rx="0.9" fill="rgb(58,58,58)" filter="url(#bl2)"/>
<rect x="309.2" y="526.8" width="12" height="1.6" rx="0.8" fill="rgb(106,106,106)" filter="url(#bl2)"/>
<rect x="325" y="526.7" width="12" height="1.8" rx="0.9" fill="rgb(46,46,46)" filter="url(#bl2)"/>
<rect x="341" y="526.65" width="12" height="1.9" rx="0.95" fill="rgb(34,34,34)" filter="url(#bl2)"/>
<rect x="260.6" y="522.8" width="95.6" height="9.6" fill="none" stroke="#2a2a2a" stroke-width="1"/>
<text x="257.6" y="529.8" font-size="6.3" text-anchor="end" fill="#222" font-weight="normal" stroke="#222" stroke-width="0.2" >CTBP2</text>
<path d="M358 525.8 l1.9 1 l-1.9 1 z" fill="#222"/>
<text x="362.2" y="529" font-size="6" text-anchor="start" fill="#222" font-weight="normal" stroke="#222" stroke-width="0.2" >48</text>
<rect x="260.6" y="535.9" width="95.6" height="10.1" fill="#f3f3f3"/>
<rect x="261.9" y="535.75" width="11" height="4" rx="1.5" fill="rgb(214,214,214)" filter="url(#bl3)"/>
<rect x="261.4" y="539.15" width="12" height="3.6" rx="1.1" fill="rgb(10,10,10)" filter="url(#bl2)"/>
<rect x="278.5" y="535.95" width="11" height="4" rx="1.5" fill="rgb(221,221,221)" filter="url(#bl3)"/>
<rect x="278" y="539.35" width="12" height="3.2" rx="1.1" fill="rgb(29,29,29)" filter="url(#bl2)"/>
<rect x="294.5" y="536.05" width="11" height="4" rx="1.5" fill="rgb(235,235,235)" filter="url(#bl3)"/>
<rect x="294" y="539.45" width="12" height="3" rx="1.1" fill="rgb(118,118,118)" filter="url(#bl2)"/>
<rect x="309.7" y="536.05" width="11" height="4" rx="1.5" fill="rgb(228,228,228)" filter="url(#bl3)"/>
<rect x="309.2" y="539.45" width="12" height="3" rx="1.1" fill="rgb(62,62,62)" filter="url(#bl2)"/>
<rect x="325" y="539.65" width="12" height="2.6" rx="1.1" fill="rgb(178,178,178)" filter="url(#bl2)"/>
<rect x="341" y="539.75" width="12" height="2.4" rx="1.1" fill="rgb(226,226,226)" filter="url(#bl2)"/>
<rect x="260.6" y="535.9" width="95.6" height="10.1" fill="none" stroke="#2a2a2a" stroke-width="1"/>
<text x="257.6" y="543.15" font-size="6.3" text-anchor="end" fill="#222" font-weight="normal" stroke="#222" stroke-width="0.2" >MYC</text>
<path d="M358 536.7 l1.9 1 l-1.9 1 z" fill="#222"/>
<text x="362.2" y="539.9" font-size="6" text-anchor="start" fill="#222" font-weight="normal" stroke="#222" stroke-width="0.2" >63</text>
<rect x="260.6" y="549.4" width="95.6" height="8.2" fill="#f3f3f3"/>
<rect x="261.4" y="552.25" width="12" height="2.5" rx="1.1" fill="rgb(22,22,22)" filter="url(#bl2)"/>
<rect x="278" y="552.25" width="12" height="2.5" rx="1.1" fill="rgb(22,22,22)" filter="url(#bl2)"/>
<rect x="294" y="552.25" width="12" height="2.5" rx="1.1" fill="rgb(22,22,22)" filter="url(#bl2)"/>
<rect x="309.2" y="552.25" width="12" height="2.5" rx="1.1" fill="rgb(22,22,22)" filter="url(#bl2)"/>
<rect x="325" y="551.5" width="12" height="4" rx="1.1" fill="rgb(10,10,10)" filter="url(#bl2)"/>
<rect x="341" y="551.5" width="12" height="4" rx="1.1" fill="rgb(10,10,10)" filter="url(#bl2)"/>
<rect x="260.6" y="549.4" width="95.6" height="8.2" fill="none" stroke="#2a2a2a" stroke-width="1"/>
<text x="257.6" y="555.7" font-size="6.3" text-anchor="end" fill="#222" font-weight="normal" stroke="#222" stroke-width="0.2" >ACTIN</text>
<path d="M358 552.4 l1.9 1 l-1.9 1 z" fill="#222"/>
<text x="362.2" y="555.6" font-size="6" text-anchor="start" fill="#222" font-weight="normal" stroke="#222" stroke-width="0.2" >48</text>
<text x="358.8" y="518.6" font-size="5.8" text-anchor="start" fill="#222" font-weight="normal" stroke="#222" stroke-width="0.2" >kDa</text>
<rect x="404.4" y="523.2" width="95.6" height="9.4" fill="#f3f3f3"/>
<rect x="405.7" y="527.15" width="12" height="1.5" rx="0.75" fill="rgb(240,240,240)" filter="url(#bl2)"/>
<rect x="422" y="527.15" width="12" height="1.5" rx="0.75" fill="rgb(238,238,238)" filter="url(#bl2)"/>
<rect x="438.5" y="527.15" width="12" height="1.5" rx="0.75" fill="rgb(235,235,235)" filter="url(#bl2)"/>
<rect x="454" y="527.8" width="12" height="1.4" rx="0.7" fill="rgb(178,178,178)" filter="url(#bl2)"/>
<rect x="469.8" y="527.8" width="12" height="1.4" rx="0.7" fill="rgb(178,178,178)" filter="url(#bl2)"/>
<rect x="485" y="527.7" width="12" height="1.6" rx="0.8" fill="rgb(178,178,178)" filter="url(#bl2)"/>
<rect x="404.4" y="523.2" width="95.6" height="9.4" fill="none" stroke="#2a2a2a" stroke-width="1"/>
<text x="401.6" y="530.1" font-size="6.3" text-anchor="end" fill="#222" font-weight="normal" stroke="#222" stroke-width="0.2" >CTBP2</text>
<path d="M501.8 526.2 l1.9 1 l-1.9 1 z" fill="#222"/>
<text x="506.6" y="529.4" font-size="6" text-anchor="start" fill="#222" font-weight="normal" stroke="#222" stroke-width="0.2" >48</text>
<rect x="404.4" y="536.3" width="95.6" height="9.2" fill="#f3f3f3"/>
<rect x="406.2" y="536.5" width="11" height="4" rx="1.5" fill="rgb(199,199,199)" filter="url(#bl3)"/>
<rect x="405.7" y="539.9" width="12" height="3.6" rx="1.1" fill="rgb(17,17,17)" filter="url(#bl2)"/>
<rect x="422.5" y="536.6" width="11" height="4" rx="1.5" fill="rgb(199,199,199)" filter="url(#bl3)"/>
<rect x="422" y="540" width="12" height="3.4" rx="1.1" fill="rgb(17,17,17)" filter="url(#bl2)"/>
<rect x="439" y="536.6" width="11" height="4" rx="1.5" fill="rgb(199,199,199)" filter="url(#bl3)"/>
<rect x="438.5" y="540" width="12" height="3.4" rx="1.1" fill="rgb(17,17,17)" filter="url(#bl2)"/>
<rect x="454" y="539.4" width="12" height="3" rx="1.1" fill="rgb(240,240,240)" filter="url(#bl2)"/>
<rect x="469.8" y="539.4" width="12" height="3" rx="1.1" fill="rgb(240,240,240)" filter="url(#bl2)"/>
<rect x="485" y="539.4" width="12" height="3" rx="1.1" fill="rgb(240,240,240)" filter="url(#bl2)"/>
<rect x="404.4" y="536.3" width="95.6" height="9.2" fill="none" stroke="#2a2a2a" stroke-width="1"/>
<text x="401.6" y="543.1" font-size="6.3" text-anchor="end" fill="#222" font-weight="normal" stroke="#222" stroke-width="0.2" >MYC</text>
<path d="M501.8 537.1 l1.9 1 l-1.9 1 z" fill="#222"/>
<text x="506.6" y="540.3" font-size="6" text-anchor="start" fill="#222" font-weight="normal" stroke="#222" stroke-width="0.2" >63</text>
<rect x="404.4" y="549.3" width="95.6" height="8" fill="#f3f3f3"/>
<rect x="405.7" y="551.3" width="12" height="2.8" rx="1.1" fill="rgb(22,22,22)" filter="url(#bl2)"/>
<rect x="422" y="551.3" width="12" height="2.8" rx="1.1" fill="rgb(22,22,22)" filter="url(#bl2)"/>
<rect x="438.5" y="551.3" width="12" height="2.8" rx="1.1" fill="rgb(22,22,22)" filter="url(#bl2)"/>
<rect x="454" y="553.2" width="12" height="2.2" rx="1.1" fill="rgb(70,70,70)" filter="url(#bl2)"/>
<rect x="469.8" y="553.2" width="12" height="2.2" rx="1.1" fill="rgb(70,70,70)" filter="url(#bl2)"/>
<rect x="485" y="553.2" width="12" height="2.2" rx="1.1" fill="rgb(70,70,70)" filter="url(#bl2)"/>
<rect x="404.4" y="549.3" width="95.6" height="8" fill="none" stroke="#2a2a2a" stroke-width="1"/>
<text x="401.6" y="555.5" font-size="6.3" text-anchor="end" fill="#222" font-weight="normal" stroke="#222" stroke-width="0.2" >ACTIN</text>
<path d="M501.8 552.3 l1.9 1 l-1.9 1 z" fill="#222"/>
<text x="506.6" y="555.5" font-size="6" text-anchor="start" fill="#222" font-weight="normal" stroke="#222" stroke-width="0.2" >48</text>
<text x="503.2" y="519.4" font-size="5.8" text-anchor="start" fill="#222" font-weight="normal" stroke="#222" stroke-width="0.2" >kDa</text>
<rect x="45.8" y="595.8" width="61.2" height="10" fill="#f3f3f3"/>
<rect x="47.55" y="599.9" width="11.5" height="1.8" rx="0.9" fill="rgb(202,202,202)" filter="url(#bl2)"/>
<rect x="63.75" y="599.9" width="11.5" height="1.8" rx="0.9" fill="rgb(130,130,130)" filter="url(#bl2)"/>
<rect x="79.25" y="599.8" width="11.5" height="2" rx="1" fill="rgb(22,22,22)" filter="url(#bl2)"/>
<rect x="94.25" y="599.9" width="11.5" height="1.8" rx="0.9" fill="rgb(34,34,34)" filter="url(#bl2)"/>
<rect x="45.8" y="595.8" width="61.2" height="10" fill="none" stroke="#2a2a2a" stroke-width="1"/>
<rect x="45.8" y="610.5" width="61.2" height="9.5" fill="#f3f3f3"/>
<rect x="48.05" y="610.9" width="10.5" height="4" rx="1.5" fill="rgb(214,214,214)" filter="url(#bl3)"/>
<rect x="47.55" y="614.3" width="11.5" height="2.5" rx="1.1" fill="rgb(34,34,34)" filter="url(#bl2)"/>
<rect x="64.25" y="610.65" width="10.5" height="4" rx="1.5" fill="rgb(206,206,206)" filter="url(#bl3)"/>
<rect x="63.75" y="614.05" width="11.5" height="3" rx="1.1" fill="rgb(10,10,10)" filter="url(#bl2)"/>
<rect x="79.75" y="610.85" width="10.5" height="4" rx="1.5" fill="rgb(242,242,242)" filter="url(#bl3)"/>
<rect x="79.25" y="614.25" width="11.5" height="2" rx="1" fill="rgb(202,202,202)" filter="url(#bl2)"/>
<rect x="45.8" y="610.5" width="61.2" height="9.5" fill="none" stroke="#2a2a2a" stroke-width="1"/>
<rect x="45.8" y="625.5" width="61.2" height="9.5" fill="#f3f3f3"/>
<rect x="47.55" y="628.85" width="11.5" height="2.8" rx="1.1" fill="rgb(22,22,22)" filter="url(#bl2)"/>
<rect x="63.75" y="628.75" width="11.5" height="3" rx="1.1" fill="rgb(22,22,22)" filter="url(#bl2)"/>
<rect x="79.25" y="629.55" width="11.5" height="2" rx="1" fill="rgb(34,34,34)" filter="url(#bl2)"/>
<rect x="94.25" y="629.25" width="11.5" height="2" rx="1" fill="rgb(34,34,34)" filter="url(#bl2)"/>
<rect x="45.8" y="625.5" width="61.2" height="9.5" fill="none" stroke="#2a2a2a" stroke-width="1"/>
<text transform="translate(55.4 593.3) rotate(-90)" font-size="6.0" fill="#222" stroke="#222" stroke-width="0.2">DMSO</text>
<text transform="translate(71.6 593.3) rotate(-90)" font-size="6.0" fill="#222" stroke="#222" stroke-width="0.2">TSA</text>
<text transform="translate(87.1 593.3) rotate(-90)" font-size="6.0" fill="#222" stroke="#222" stroke-width="0.2">DZNep</text>
<text transform="translate(102.1 593.3) rotate(-90)" font-size="6.0" fill="#222" stroke="#222" stroke-width="0.2">D+T</text>
<text x="76.4" y="643.4" font-size="6.3" text-anchor="middle" fill="#222" font-weight="normal" stroke="#222" stroke-width="0.2" >MM.1S</text>
<rect x="109.6" y="595.8" width="60" height="10" fill="#f3f3f3"/>
<rect x="111.25" y="600" width="11.5" height="1.6" rx="0.8" fill="rgb(226,226,226)" filter="url(#bl2)"/>
<rect x="126.55" y="600" width="11.5" height="1.6" rx="0.8" fill="rgb(214,214,214)" filter="url(#bl2)"/>
<rect x="142.45" y="599.8" width="11.5" height="2" rx="1" fill="rgb(70,70,70)" filter="url(#bl2)"/>
<rect x="157.95" y="598.2" width="11.5" height="4.6" rx="1.1" fill="rgb(10,10,10)" filter="url(#bl2)"/>
<rect x="109.6" y="595.8" width="60" height="10" fill="none" stroke="#2a2a2a" stroke-width="1"/>
<rect x="109.6" y="610.5" width="60" height="9.5" fill="#f3f3f3"/>
<rect x="111.25" y="614.25" width="11.5" height="2" rx="1" fill="rgb(106,106,106)" filter="url(#bl2)"/>
<rect x="126.55" y="614" width="11.5" height="2.5" rx="1.1" fill="rgb(46,46,46)" filter="url(#bl2)"/>
<rect x="142.45" y="614.25" width="11.5" height="2" rx="1" fill="rgb(230,230,230)" filter="url(#bl2)"/>
<rect x="157.95" y="614.25" width="11.5" height="2" rx="1" fill="rgb(238,238,238)" filter="url(#bl2)"/>
<rect x="109.6" y="610.5" width="60" height="9.5" fill="none" stroke="#2a2a2a" stroke-width="1"/>
<rect x="109.6" y="625.5" width="60" height="9.5" fill="#f3f3f3"/>
<rect x="111.25" y="627.25" width="11.5" height="2" rx="1" fill="rgb(34,34,34)" filter="url(#bl2)"/>
<rect x="126.55" y="627.25" width="11.5" height="2" rx="1" fill="rgb(34,34,34)" filter="url(#bl2)"/>
<rect x="142.45" y="628.55" width="11.5" height="1.8" rx="0.9" fill="rgb(46,46,46)" filter="url(#bl2)"/>
<rect x="157.95" y="629.45" width="11.5" height="2" rx="1" fill="rgb(34,34,34)" filter="url(#bl2)"/>
<rect x="109.6" y="625.5" width="60" height="9.5" fill="none" stroke="#2a2a2a" stroke-width="1"/>
<text transform="translate(119.1 593.3) rotate(-90)" font-size="6.0" fill="#222" stroke="#222" stroke-width="0.2">DMSO</text>
<text transform="translate(134.4 593.3) rotate(-90)" font-size="6.0" fill="#222" stroke="#222" stroke-width="0.2">TSA</text>
<text transform="translate(150.3 593.3) rotate(-90)" font-size="6.0" fill="#222" stroke="#222" stroke-width="0.2">DZNep</text>
<text transform="translate(165.8 593.3) rotate(-90)" font-size="6.0" fill="#222" stroke="#222" stroke-width="0.2">D+T</text>
<text x="139.6" y="643.4" font-size="6.3" text-anchor="middle" fill="#222" font-weight="normal" stroke="#222" stroke-width="0.2" >NCI-H929</text>
<rect x="173" y="595.8" width="61.3" height="10" fill="#f3f3f3"/>
<rect x="173.75" y="600" width="11.5" height="1.6" rx="0.8" fill="rgb(226,226,226)" filter="url(#bl2)"/>
<rect x="188.85" y="600" width="11.5" height="1.6" rx="0.8" fill="rgb(226,226,226)" filter="url(#bl2)"/>
<rect x="204.25" y="600" width="11.5" height="1.6" rx="0.8" fill="rgb(166,166,166)" filter="url(#bl2)"/>
<rect x="219.95" y="599.9" width="11.5" height="1.8" rx="0.9" fill="rgb(118,118,118)" filter="url(#bl2)"/>
<rect x="173" y="595.8" width="61.3" height="10" fill="none" stroke="#2a2a2a" stroke-width="1"/>
<rect x="173" y="610.5" width="61.3" height="9.5" fill="#f3f3f3"/>
<rect x="174.25" y="610.55" width="10.5" height="4" rx="1.5" fill="rgb(235,235,235)" filter="url(#bl3)"/>
<rect x="173.75" y="613.95" width="11.5" height="2.6" rx="1.1" fill="rgb(82,82,82)" filter="url(#bl2)"/>
<rect x="188.85" y="613.05" width="11.5" height="4.4" rx="1.1" fill="rgb(10,10,10)" filter="url(#bl2)"/>
<rect x="204.25" y="613.95" width="11.5" height="2.6" rx="1.1" fill="rgb(190,190,190)" filter="url(#bl2)"/>
<rect x="219.95" y="613.75" width="11.5" height="3" rx="1.1" fill="rgb(130,130,130)" filter="url(#bl2)"/>
<rect x="173" y="610.5" width="61.3" height="9.5" fill="none" stroke="#2a2a2a" stroke-width="1"/>
<rect x="173" y="625.5" width="61.3" height="9.5" fill="#f3f3f3"/>
<rect x="173.75" y="627.95" width="11.5" height="1.6" rx="0.8" fill="rgb(46,46,46)" filter="url(#bl2)"/>
<rect x="188.85" y="628.95" width="11.5" height="2" rx="1" fill="rgb(34,34,34)" filter="url(#bl2)"/>
<rect x="204.25" y="628.95" width="11.5" height="2" rx="1" fill="rgb(34,34,34)" filter="url(#bl2)"/>
<rect x="219.95" y="628.95" width="11.5" height="2" rx="1" fill="rgb(34,34,34)" filter="url(#bl2)"/>
<rect x="173" y="625.5" width="61.3" height="9.5" fill="none" stroke="#2a2a2a" stroke-width="1"/>
<text transform="translate(181.6 593.3) rotate(-90)" font-size="6.0" fill="#222" stroke="#222" stroke-width="0.2">DMSO</text>
<text transform="translate(196.7 593.3) rotate(-90)" font-size="6.0" fill="#222" stroke="#222" stroke-width="0.2">TSA</text>
<text transform="translate(212.1 593.3) rotate(-90)" font-size="6.0" fill="#222" stroke="#222" stroke-width="0.2">DZNep</text>
<text transform="translate(227.8 593.3) rotate(-90)" font-size="6.0" fill="#222" stroke="#222" stroke-width="0.2">D+T</text>
<text x="203.65" y="643.4" font-size="6.3" text-anchor="middle" fill="#222" font-weight="normal" stroke="#222" stroke-width="0.2" >OPM2</text>
<rect x="236.8" y="595.8" width="60.2" height="10" fill="#f3f3f3"/>
<rect x="237.25" y="600" width="11.5" height="1.6" rx="0.8" fill="rgb(221,221,221)" filter="url(#bl2)"/>
<rect x="253.45" y="600" width="11.5" height="1.6" rx="0.8" fill="rgb(221,221,221)" filter="url(#bl2)"/>
<rect x="268.75" y="600" width="11.5" height="1.6" rx="0.8" fill="rgb(221,221,221)" filter="url(#bl2)"/>
<rect x="284.25" y="599.5" width="11.5" height="1.6" rx="0.8" fill="rgb(178,178,178)" filter="url(#bl2)"/>
<rect x="236.8" y="595.8" width="60.2" height="10" fill="none" stroke="#2a2a2a" stroke-width="1"/>
<rect x="236.8" y="610.5" width="60.2" height="9.5" fill="#f3f3f3"/>
<rect x="237.25" y="613.65" width="11.5" height="3.2" rx="1.1" fill="rgb(22,22,22)" filter="url(#bl2)"/>
<rect x="253.45" y="613.75" width="11.5" height="3" rx="1.1" fill="rgb(34,34,34)" filter="url(#bl2)"/>
<rect x="268.75" y="613.35" width="11.5" height="3.2" rx="1.1" fill="rgb(34,34,34)" filter="url(#bl2)"/>
<rect x="284.25" y="613.45" width="11.5" height="3.6" rx="1.1" fill="rgb(182,182,182)" filter="url(#bl2)"/>
<rect x="236.8" y="610.5" width="60.2" height="9.5" fill="none" stroke="#2a2a2a" stroke-width="1"/>
<rect x="236.8" y="625.5" width="60.2" height="9.5" fill="#f3f3f3"/>
<rect x="237.25" y="628.95" width="11.5" height="2.6" rx="1.1" fill="rgb(29,29,29)" filter="url(#bl2)"/>
<rect x="253.45" y="628.95" width="11.5" height="2.6" rx="1.1" fill="rgb(29,29,29)" filter="url(#bl2)"/>
<rect x="268.75" y="628.95" width="11.5" height="2.6" rx="1.1" fill="rgb(29,29,29)" filter="url(#bl2)"/>
<rect x="284.25" y="628.95" width="11.5" height="2.6" rx="1.1" fill="rgb(29,29,29)" filter="url(#bl2)"/>
<rect x="236.8" y="625.5" width="60.2" height="9.5" fill="none" stroke="#2a2a2a" stroke-width="1"/>
<text transform="translate(245.1 593.3) rotate(-90)" font-size="6.0" fill="#222" stroke="#222" stroke-width="0.2">DMSO</text>
<text transform="translate(261.3 593.3) rotate(-90)" font-size="6.0" fill="#222" stroke="#222" stroke-width="0.2">TSA</text>
<text transform="translate(276.6 593.3) rotate(-90)" font-size="6.0" fill="#222" stroke="#222" stroke-width="0.2">DZNep</text>
<text transform="translate(292.1 593.3) rotate(-90)" font-size="6.0" fill="#222" stroke="#222" stroke-width="0.2">D+T</text>
<text x="266.9" y="643.4" font-size="6.3" text-anchor="middle" fill="#222" font-weight="normal" stroke="#222" stroke-width="0.2" >RPMI8226</text>
<text x="42.2" y="603" font-size="6.3" text-anchor="end" fill="#222" font-weight="normal" stroke="#222" stroke-width="0.2" >CTBP2</text>
<path d="M298.8 598.2 l1.9 1 l-1.9 1 z" fill="#222"/>
<text x="302.4" y="601.4" font-size="6" text-anchor="start" fill="#222" font-weight="normal" stroke="#222" stroke-width="0.2" >48</text>
<text x="42.2" y="617.45" font-size="6.3" text-anchor="end" fill="#222" font-weight="normal" stroke="#222" stroke-width="0.2" >MYC</text>
<path d="M298.8 611.9 l1.9 1 l-1.9 1 z" fill="#222"/>
<text x="302.4" y="615.1" font-size="6" text-anchor="start" fill="#222" font-weight="normal" stroke="#222" stroke-width="0.2" >63</text>
<text x="42.2" y="632.45" font-size="6.3" text-anchor="end" fill="#222" font-weight="normal" stroke="#222" stroke-width="0.2" >ACTIN</text>
<path d="M298.8 626.9 l1.9 1 l-1.9 1 z" fill="#222"/>
<text x="302.4" y="630.1" font-size="6" text-anchor="start" fill="#222" font-weight="normal" stroke="#222" stroke-width="0.2" >48</text>
<text x="299.5" y="593.8" font-size="5.8" text-anchor="start" fill="#222" font-weight="normal" stroke="#222" stroke-width="0.2" >kDa</text>
</svg>
<div id="frame"></div>
</div></body></html>
